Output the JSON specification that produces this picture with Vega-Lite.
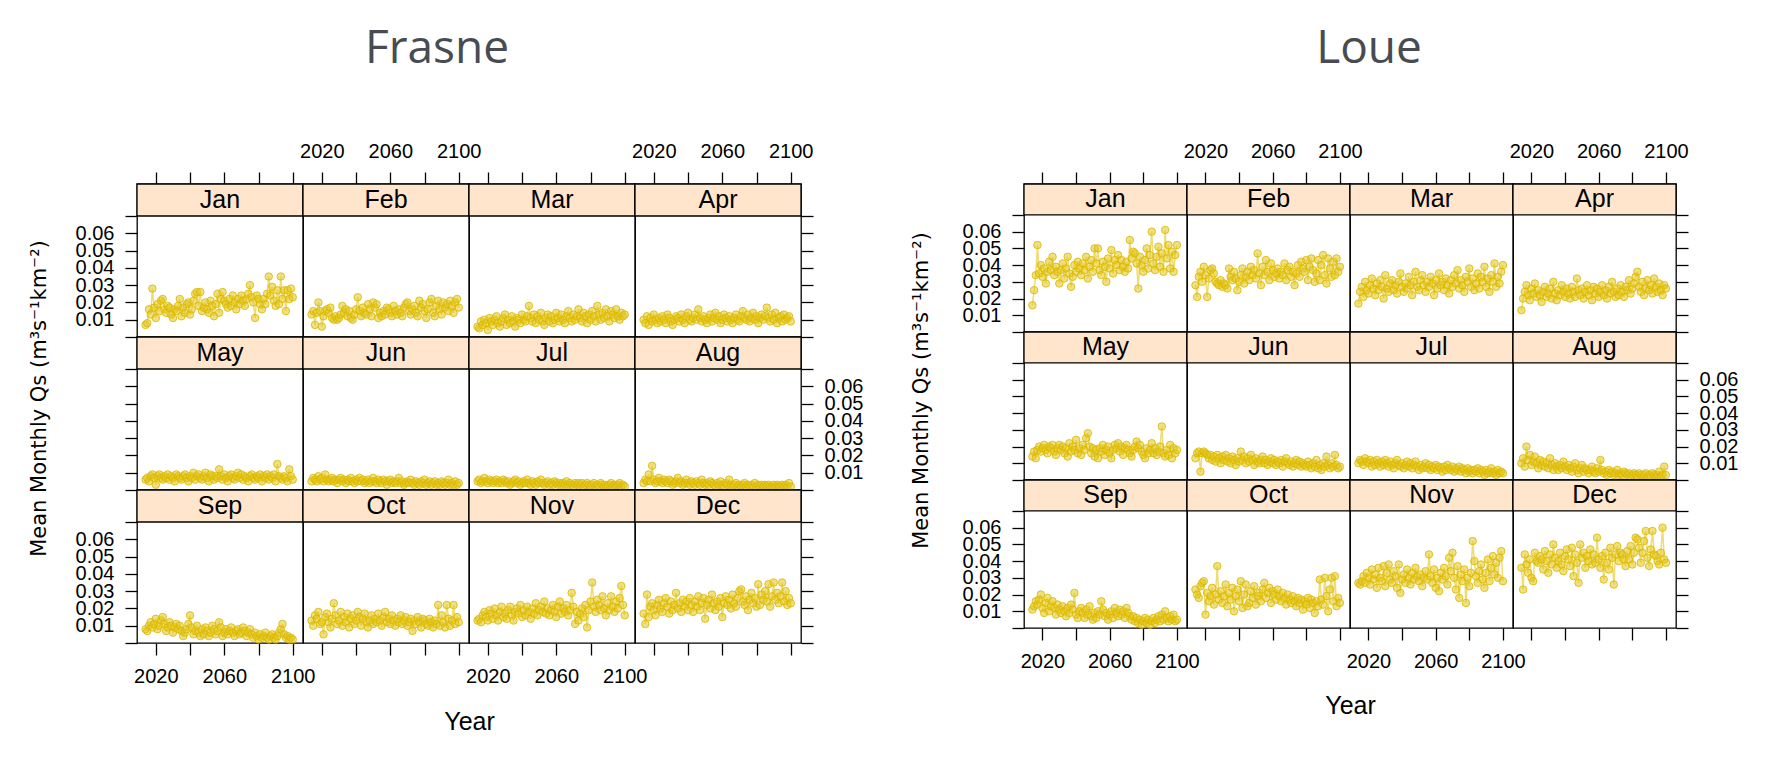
{
"$schema":"https://vega.github.io/schema/vega-lite/v6.json",
"background":"white",
"padding":{"left":27,"top":26,"right":0,"bottom":0},
"config":{"view":{"stroke":"black","strokeWidth":1.3},"axis":{"domain":false,"grid":false,"tickColor":"black","tickSize":12,"tickWidth":1.3,"labelFont":"Liberation Sans","labelFontSize":20,"labelColor":"black","labelPadding":11,"labelOverlap":false,"labelFlush":false,"labelBound":false}},
"datasets":{
"frasne":[
{"y":2014,"Jan":0.007,"Feb":0.013,"Mar":0.006,"Apr":0.010,"May":0.006,"Jun":0.005,"Jul":0.005,"Aug":0.004,"Sep":0.008,"Oct":0.013,"Nov":0.013,"Dec":0.017},
{"y":2015,"Jan":0.008,"Feb":0.015,"Mar":0.005,"Apr":0.008,"May":0.007,"Jun":0.007,"Jul":0.006,"Aug":0.006,"Sep":0.007,"Oct":0.010,"Nov":0.014,"Dec":0.011},
{"y":2016,"Jan":0.016,"Feb":0.007,"Mar":0.009,"Apr":0.012,"May":0.005,"Jun":0.006,"Jul":0.004,"Aug":0.005,"Sep":0.010,"Oct":0.016,"Nov":0.012,"Dec":0.028},
{"y":2017,"Jan":0.013,"Feb":0.014,"Mar":0.007,"Apr":0.007,"May":0.008,"Jun":0.005,"Jul":0.005,"Aug":0.009,"Sep":0.012,"Oct":0.014,"Nov":0.016,"Dec":0.015},
{"y":2018,"Jan":0.028,"Feb":0.020,"Mar":0.010,"Apr":0.011,"May":0.009,"Jun":0.008,"Jul":0.007,"Aug":0.005,"Sep":0.009,"Oct":0.018,"Nov":0.018,"Dec":0.021},
{"y":2019,"Jan":0.017,"Feb":0.015,"Mar":0.008,"Apr":0.009,"May":0.007,"Jun":0.006,"Jul":0.005,"Aug":0.014,"Sep":0.011,"Oct":0.011,"Nov":0.015,"Dec":0.023},
{"y":2020,"Jan":0.011,"Feb":0.006,"Mar":0.004,"Apr":0.013,"May":0.003,"Jun":0.007,"Jul":0.004,"Aug":0.006,"Sep":0.014,"Oct":0.012,"Nov":0.013,"Dec":0.019},
{"y":2021,"Jan":0.019,"Feb":0.012,"Mar":0.011,"Apr":0.010,"May":0.008,"Jun":0.005,"Jul":0.006,"Aug":0.004,"Sep":0.008,"Oct":0.005,"Nov":0.019,"Dec":0.016},
{"y":2022,"Jan":0.015,"Feb":0.015,"Mar":0.009,"Apr":0.008,"May":0.009,"Jun":0.009,"Jul":0.005,"Aug":0.005,"Sep":0.010,"Oct":0.015,"Nov":0.017,"Dec":0.022},
{"y":2023,"Jan":0.021,"Feb":0.016,"Mar":0.007,"Apr":0.011,"May":0.007,"Jun":0.006,"Jul":0.004,"Aug":0.007,"Sep":0.013,"Oct":0.017,"Nov":0.014,"Dec":0.025},
{"y":2024,"Jan":0.022,"Feb":0.014,"Mar":0.010,"Apr":0.009,"May":0.006,"Jun":0.005,"Jul":0.005,"Aug":0.005,"Sep":0.015,"Oct":0.012,"Nov":0.020,"Dec":0.020},
{"y":2025,"Jan":0.016,"Feb":0.017,"Mar":0.012,"Apr":0.012,"May":0.008,"Jun":0.006,"Jul":0.006,"Aug":0.004,"Sep":0.011,"Oct":0.009,"Nov":0.016,"Dec":0.018},
{"y":2026,"Jan":0.014,"Feb":0.011,"Mar":0.008,"Apr":0.010,"May":0.007,"Jun":0.007,"Jul":0.004,"Aug":0.006,"Sep":0.007,"Oct":0.014,"Nov":0.013,"Dec":0.023},
{"y":2027,"Jan":0.018,"Feb":0.010,"Mar":0.006,"Apr":0.008,"May":0.009,"Jun":0.005,"Jul":0.005,"Aug":0.005,"Sep":0.009,"Oct":0.023,"Nov":0.018,"Dec":0.026},
{"y":2028,"Jan":0.017,"Feb":0.012,"Mar":0.009,"Apr":0.013,"May":0.006,"Jun":0.006,"Jul":0.004,"Aug":0.004,"Sep":0.012,"Oct":0.016,"Nov":0.021,"Dec":0.021},
{"y":2029,"Jan":0.013,"Feb":0.010,"Mar":0.011,"Apr":0.011,"May":0.008,"Jun":0.004,"Jul":0.006,"Aug":0.006,"Sep":0.010,"Oct":0.011,"Nov":0.015,"Dec":0.017},
{"y":2030,"Jan":0.011,"Feb":0.011,"Mar":0.013,"Apr":0.009,"May":0.007,"Jun":0.006,"Jul":0.005,"Aug":0.005,"Sep":0.006,"Oct":0.013,"Nov":0.017,"Dec":0.024},
{"y":2031,"Jan":0.016,"Feb":0.013,"Mar":0.007,"Apr":0.007,"May":0.005,"Jun":0.007,"Jul":0.004,"Aug":0.003,"Sep":0.009,"Oct":0.018,"Nov":0.014,"Dec":0.019},
{"y":2032,"Jan":0.015,"Feb":0.018,"Mar":0.010,"Apr":0.010,"May":0.009,"Jun":0.005,"Jul":0.005,"Aug":0.004,"Sep":0.011,"Oct":0.010,"Nov":0.019,"Dec":0.022},
{"y":2033,"Jan":0.018,"Feb":0.014,"Mar":0.008,"Apr":0.012,"May":0.008,"Jun":0.006,"Jul":0.003,"Aug":0.005,"Sep":0.008,"Oct":0.015,"Nov":0.021,"Dec":0.029},
{"y":2034,"Jan":0.022,"Feb":0.016,"Mar":0.012,"Apr":0.011,"May":0.007,"Jun":0.004,"Jul":0.004,"Aug":0.007,"Sep":0.010,"Oct":0.012,"Nov":0.016,"Dec":0.020},
{"y":2035,"Jan":0.012,"Feb":0.012,"Mar":0.009,"Apr":0.009,"May":0.006,"Jun":0.006,"Jul":0.005,"Aug":0.004,"Sep":0.007,"Oct":0.017,"Nov":0.013,"Dec":0.023},
{"y":2036,"Jan":0.017,"Feb":0.015,"Mar":0.006,"Apr":0.013,"May":0.008,"Jun":0.005,"Jul":0.006,"Aug":0.005,"Sep":0.004,"Oct":0.009,"Nov":0.018,"Dec":0.018},
{"y":2037,"Jan":0.014,"Feb":0.011,"Mar":0.011,"Apr":0.010,"May":0.009,"Jun":0.007,"Jul":0.004,"Aug":0.003,"Sep":0.006,"Oct":0.014,"Nov":0.020,"Dec":0.025},
{"y":2038,"Jan":0.019,"Feb":0.010,"Mar":0.010,"Apr":0.008,"May":0.007,"Jun":0.005,"Jul":0.005,"Aug":0.004,"Sep":0.008,"Oct":0.016,"Nov":0.017,"Dec":0.021},
{"y":2039,"Jan":0.020,"Feb":0.013,"Mar":0.008,"Apr":0.012,"May":0.005,"Jun":0.004,"Jul":0.003,"Aug":0.006,"Sep":0.011,"Oct":0.011,"Nov":0.022,"Dec":0.024},
{"y":2040,"Jan":0.013,"Feb":0.016,"Mar":0.013,"Apr":0.014,"May":0.008,"Jun":0.006,"Jul":0.004,"Aug":0.004,"Sep":0.016,"Oct":0.013,"Nov":0.015,"Dec":0.019},
{"y":2041,"Jan":0.016,"Feb":0.023,"Mar":0.010,"Apr":0.010,"May":0.007,"Jun":0.005,"Jul":0.005,"Aug":0.003,"Sep":0.009,"Oct":0.018,"Nov":0.019,"Dec":0.026},
{"y":2042,"Jan":0.021,"Feb":0.015,"Mar":0.009,"Apr":0.009,"May":0.010,"Jun":0.007,"Jul":0.004,"Aug":0.005,"Sep":0.005,"Oct":0.015,"Nov":0.016,"Dec":0.022},
{"y":2043,"Jan":0.025,"Feb":0.012,"Mar":0.012,"Apr":0.011,"May":0.006,"Jun":0.005,"Jul":0.006,"Aug":0.004,"Sep":0.007,"Oct":0.010,"Nov":0.021,"Dec":0.018},
{"y":2044,"Jan":0.026,"Feb":0.017,"Mar":0.018,"Apr":0.013,"May":0.008,"Jun":0.006,"Jul":0.004,"Aug":0.003,"Sep":0.010,"Oct":0.014,"Nov":0.018,"Dec":0.024},
{"y":2045,"Jan":0.018,"Feb":0.014,"Mar":0.011,"Apr":0.010,"May":0.009,"Jun":0.004,"Jul":0.003,"Aug":0.005,"Sep":0.006,"Oct":0.017,"Nov":0.014,"Dec":0.021},
{"y":2046,"Jan":0.026,"Feb":0.013,"Mar":0.009,"Apr":0.016,"May":0.007,"Jun":0.005,"Jul":0.005,"Aug":0.004,"Sep":0.004,"Oct":0.012,"Nov":0.020,"Dec":0.027},
{"y":2047,"Jan":0.015,"Feb":0.019,"Mar":0.013,"Apr":0.011,"May":0.006,"Jun":0.006,"Jul":0.004,"Aug":0.003,"Sep":0.008,"Oct":0.009,"Nov":0.017,"Dec":0.019},
{"y":2048,"Jan":0.017,"Feb":0.016,"Mar":0.008,"Apr":0.009,"May":0.008,"Jun":0.004,"Jul":0.003,"Aug":0.006,"Sep":0.005,"Oct":0.013,"Nov":0.023,"Dec":0.023},
{"y":2049,"Jan":0.020,"Feb":0.012,"Mar":0.012,"Apr":0.012,"May":0.010,"Jun":0.005,"Jul":0.005,"Aug":0.004,"Sep":0.009,"Oct":0.016,"Nov":0.016,"Dec":0.026},
{"y":2050,"Jan":0.016,"Feb":0.020,"Mar":0.010,"Apr":0.010,"May":0.007,"Jun":0.007,"Jul":0.004,"Aug":0.003,"Sep":0.007,"Oct":0.011,"Nov":0.019,"Dec":0.014},
{"y":2051,"Jan":0.014,"Feb":0.017,"Mar":0.014,"Apr":0.008,"May":0.005,"Jun":0.005,"Jul":0.006,"Aug":0.004,"Sep":0.004,"Oct":0.014,"Nov":0.021,"Dec":0.022},
{"y":2052,"Jan":0.021,"Feb":0.019,"Mar":0.009,"Apr":0.011,"May":0.009,"Jun":0.004,"Jul":0.004,"Aug":0.003,"Sep":0.006,"Oct":0.012,"Nov":0.018,"Dec":0.025},
{"y":2053,"Jan":0.018,"Feb":0.011,"Mar":0.007,"Apr":0.013,"May":0.008,"Jun":0.006,"Jul":0.003,"Aug":0.005,"Sep":0.010,"Oct":0.017,"Nov":0.024,"Dec":0.020},
{"y":2054,"Jan":0.012,"Feb":0.014,"Mar":0.011,"Apr":0.009,"May":0.006,"Jun":0.005,"Jul":0.004,"Aug":0.004,"Sep":0.008,"Oct":0.013,"Nov":0.017,"Dec":0.028},
{"y":2055,"Jan":0.019,"Feb":0.012,"Mar":0.013,"Apr":0.011,"May":0.008,"Jun":0.004,"Jul":0.005,"Aug":0.003,"Sep":0.005,"Oct":0.010,"Nov":0.020,"Dec":0.023},
{"y":2056,"Jan":0.025,"Feb":0.015,"Mar":0.009,"Apr":0.014,"May":0.007,"Jun":0.006,"Jul":0.003,"Aug":0.002,"Sep":0.007,"Oct":0.015,"Nov":0.016,"Dec":0.019},
{"y":2057,"Jan":0.014,"Feb":0.013,"Mar":0.012,"Apr":0.010,"May":0.012,"Jun":0.005,"Jul":0.004,"Aug":0.004,"Sep":0.012,"Oct":0.018,"Nov":0.019,"Dec":0.024},
{"y":2058,"Jan":0.022,"Feb":0.017,"Mar":0.008,"Apr":0.012,"May":0.008,"Jun":0.003,"Jul":0.003,"Aug":0.003,"Sep":0.009,"Oct":0.012,"Nov":0.022,"Dec":0.021},
{"y":2059,"Jan":0.026,"Feb":0.016,"Mar":0.010,"Apr":0.008,"May":0.006,"Jun":0.005,"Jul":0.005,"Aug":0.005,"Sep":0.004,"Oct":0.014,"Nov":0.018,"Dec":0.026},
{"y":2060,"Jan":0.021,"Feb":0.014,"Mar":0.014,"Apr":0.010,"May":0.009,"Jun":0.006,"Jul":0.004,"Aug":0.003,"Sep":0.006,"Oct":0.011,"Nov":0.015,"Dec":0.015},
{"y":2061,"Jan":0.019,"Feb":0.012,"Mar":0.011,"Apr":0.013,"May":0.007,"Jun":0.004,"Jul":0.003,"Aug":0.002,"Sep":0.008,"Oct":0.016,"Nov":0.021,"Dec":0.023},
{"y":2062,"Jan":0.017,"Feb":0.018,"Mar":0.009,"Apr":0.011,"May":0.005,"Jun":0.005,"Jul":0.004,"Aug":0.004,"Sep":0.005,"Oct":0.013,"Nov":0.024,"Dec":0.027},
{"y":2063,"Jan":0.022,"Feb":0.015,"Mar":0.013,"Apr":0.009,"May":0.008,"Jun":0.004,"Jul":0.003,"Aug":0.003,"Sep":0.007,"Oct":0.010,"Nov":0.017,"Dec":0.022},
{"y":2064,"Jan":0.018,"Feb":0.013,"Mar":0.010,"Apr":0.012,"May":0.009,"Jun":0.005,"Jul":0.004,"Aug":0.006,"Sep":0.009,"Oct":0.014,"Nov":0.020,"Dec":0.025},
{"y":2065,"Jan":0.024,"Feb":0.016,"Mar":0.008,"Apr":0.010,"May":0.007,"Jun":0.007,"Jul":0.003,"Aug":0.003,"Sep":0.006,"Oct":0.012,"Nov":0.018,"Dec":0.020},
{"y":2066,"Jan":0.020,"Feb":0.014,"Mar":0.012,"Apr":0.008,"May":0.006,"Jun":0.004,"Jul":0.005,"Aug":0.002,"Sep":0.004,"Oct":0.016,"Nov":0.022,"Dec":0.028},
{"y":2067,"Jan":0.016,"Feb":0.012,"Mar":0.015,"Apr":0.011,"May":0.008,"Jun":0.005,"Jul":0.003,"Aug":0.003,"Sep":0.007,"Oct":0.011,"Nov":0.016,"Dec":0.023},
{"y":2068,"Jan":0.022,"Feb":0.017,"Mar":0.011,"Apr":0.013,"May":0.010,"Jun":0.003,"Jul":0.004,"Aug":0.004,"Sep":0.008,"Oct":0.013,"Nov":0.019,"Dec":0.021},
{"y":2069,"Jan":0.019,"Feb":0.019,"Mar":0.009,"Apr":0.010,"May":0.007,"Jun":0.004,"Jul":0.003,"Aug":0.002,"Sep":0.005,"Oct":0.015,"Nov":0.029,"Dec":0.026},
{"y":2070,"Jan":0.024,"Feb":0.020,"Mar":0.013,"Apr":0.009,"May":0.009,"Jun":0.005,"Jul":0.002,"Aug":0.003,"Sep":0.006,"Oct":0.010,"Nov":0.021,"Dec":0.030},
{"y":2071,"Jan":0.021,"Feb":0.015,"Mar":0.010,"Apr":0.012,"May":0.006,"Jun":0.004,"Jul":0.004,"Aug":0.002,"Sep":0.009,"Oct":0.012,"Nov":0.011,"Dec":0.031},
{"y":2072,"Jan":0.018,"Feb":0.013,"Mar":0.012,"Apr":0.015,"May":0.008,"Jun":0.006,"Jul":0.003,"Aug":0.003,"Sep":0.007,"Oct":0.014,"Nov":0.018,"Dec":0.024},
{"y":2073,"Jan":0.022,"Feb":0.016,"Mar":0.016,"Apr":0.011,"May":0.007,"Jun":0.004,"Jul":0.004,"Aug":0.004,"Sep":0.004,"Oct":0.007,"Nov":0.013,"Dec":0.022},
{"y":2074,"Jan":0.025,"Feb":0.018,"Mar":0.011,"Apr":0.010,"May":0.005,"Jun":0.003,"Jul":0.003,"Aug":0.002,"Sep":0.006,"Oct":0.013,"Nov":0.017,"Dec":0.027},
{"y":2075,"Jan":0.030,"Feb":0.014,"Mar":0.009,"Apr":0.013,"May":0.008,"Jun":0.005,"Jul":0.004,"Aug":0.003,"Sep":0.008,"Oct":0.011,"Nov":0.020,"Dec":0.019},
{"y":2076,"Jan":0.023,"Feb":0.012,"Mar":0.014,"Apr":0.009,"May":0.009,"Jun":0.004,"Jul":0.002,"Aug":0.002,"Sep":0.005,"Oct":0.015,"Nov":0.015,"Dec":0.025},
{"y":2077,"Jan":0.020,"Feb":0.021,"Mar":0.012,"Apr":0.011,"May":0.007,"Jun":0.003,"Jul":0.003,"Aug":0.003,"Sep":0.003,"Oct":0.012,"Nov":0.022,"Dec":0.029},
{"y":2078,"Jan":0.011,"Feb":0.017,"Mar":0.008,"Apr":0.014,"May":0.006,"Jun":0.005,"Jul":0.004,"Aug":0.002,"Sep":0.006,"Oct":0.009,"Nov":0.009,"Dec":0.023},
{"y":2079,"Jan":0.024,"Feb":0.019,"Mar":0.013,"Apr":0.010,"May":0.008,"Jun":0.004,"Jul":0.003,"Aug":0.004,"Sep":0.004,"Oct":0.014,"Nov":0.019,"Dec":0.026},
{"y":2080,"Jan":0.022,"Feb":0.015,"Mar":0.010,"Apr":0.012,"May":0.007,"Jun":0.006,"Jul":0.002,"Aug":0.002,"Sep":0.002,"Oct":0.013,"Nov":0.024,"Dec":0.021},
{"y":2081,"Jan":0.019,"Feb":0.011,"Mar":0.015,"Apr":0.008,"May":0.009,"Jun":0.003,"Jul":0.003,"Aug":0.003,"Sep":0.005,"Oct":0.011,"Nov":0.035,"Dec":0.034},
{"y":2082,"Jan":0.016,"Feb":0.016,"Mar":0.012,"Apr":0.011,"May":0.005,"Jun":0.004,"Jul":0.004,"Aug":0.002,"Sep":0.003,"Oct":0.010,"Nov":0.021,"Dec":0.022},
{"y":2083,"Jan":0.022,"Feb":0.020,"Mar":0.009,"Apr":0.013,"May":0.008,"Jun":0.005,"Jul":0.002,"Aug":0.003,"Sep":0.004,"Oct":0.014,"Nov":0.018,"Dec":0.028},
{"y":2084,"Jan":0.019,"Feb":0.022,"Mar":0.018,"Apr":0.010,"May":0.007,"Jun":0.003,"Jul":0.003,"Aug":0.002,"Sep":0.006,"Oct":0.012,"Nov":0.025,"Dec":0.025},
{"y":2085,"Jan":0.025,"Feb":0.014,"Mar":0.013,"Apr":0.012,"May":0.009,"Jun":0.004,"Jul":0.002,"Aug":0.003,"Sep":0.003,"Oct":0.009,"Nov":0.022,"Dec":0.030},
{"y":2086,"Jan":0.035,"Feb":0.012,"Mar":0.010,"Apr":0.017,"May":0.006,"Jun":0.005,"Jul":0.004,"Aug":0.002,"Sep":0.002,"Oct":0.013,"Nov":0.019,"Dec":0.024},
{"y":2087,"Jan":0.024,"Feb":0.018,"Mar":0.014,"Apr":0.011,"May":0.008,"Jun":0.003,"Jul":0.003,"Aug":0.003,"Sep":0.004,"Oct":0.011,"Nov":0.027,"Dec":0.034},
{"y":2088,"Jan":0.029,"Feb":0.021,"Mar":0.011,"Apr":0.009,"May":0.007,"Jun":0.004,"Jul":0.002,"Aug":0.002,"Sep":0.005,"Oct":0.022,"Nov":0.020,"Dec":0.021},
{"y":2089,"Jan":0.021,"Feb":0.016,"Mar":0.016,"Apr":0.013,"May":0.009,"Jun":0.003,"Jul":0.003,"Aug":0.002,"Sep":0.003,"Oct":0.010,"Nov":0.016,"Dec":0.027},
{"y":2090,"Jan":0.018,"Feb":0.013,"Mar":0.012,"Apr":0.010,"May":0.005,"Jun":0.005,"Jul":0.002,"Aug":0.003,"Sep":0.002,"Oct":0.016,"Nov":0.023,"Dec":0.035},
{"y":2091,"Jan":0.027,"Feb":0.020,"Mar":0.009,"Apr":0.014,"May":0.015,"Jun":0.004,"Jul":0.003,"Aug":0.002,"Sep":0.004,"Oct":0.012,"Nov":0.019,"Dec":0.025},
{"y":2092,"Jan":0.019,"Feb":0.017,"Mar":0.015,"Apr":0.008,"May":0.008,"Jun":0.003,"Jul":0.004,"Aug":0.003,"Sep":0.006,"Oct":0.009,"Nov":0.027,"Dec":0.029},
{"y":2093,"Jan":0.035,"Feb":0.019,"Mar":0.013,"Apr":0.011,"May":0.007,"Jun":0.004,"Jul":0.002,"Aug":0.002,"Sep":0.008,"Oct":0.022,"Nov":0.021,"Dec":0.023},
{"y":2094,"Jan":0.022,"Feb":0.015,"Mar":0.011,"Apr":0.012,"May":0.006,"Jun":0.006,"Jul":0.003,"Aug":0.002,"Sep":0.011,"Oct":0.014,"Nov":0.018,"Dec":0.027},
{"y":2095,"Jan":0.027,"Feb":0.021,"Mar":0.016,"Apr":0.009,"May":0.008,"Jun":0.003,"Jul":0.002,"Aug":0.003,"Sep":0.005,"Oct":0.010,"Nov":0.024,"Dec":0.035},
{"y":2096,"Jan":0.015,"Feb":0.018,"Mar":0.012,"Apr":0.013,"May":0.007,"Jun":0.004,"Jul":0.003,"Aug":0.002,"Sep":0.003,"Oct":0.013,"Nov":0.020,"Dec":0.024},
{"y":2097,"Jan":0.027,"Feb":0.014,"Mar":0.010,"Apr":0.010,"May":0.005,"Jun":0.003,"Jul":0.004,"Aug":0.003,"Sep":0.004,"Oct":0.022,"Nov":0.026,"Dec":0.030},
{"y":2098,"Jan":0.022,"Feb":0.020,"Mar":0.014,"Apr":0.011,"May":0.012,"Jun":0.005,"Jul":0.002,"Aug":0.002,"Sep":0.002,"Oct":0.011,"Nov":0.033,"Dec":0.022},
{"y":2099,"Jan":0.028,"Feb":0.022,"Mar":0.012,"Apr":0.012,"May":0.008,"Jun":0.003,"Jul":0.003,"Aug":0.004,"Sep":0.003,"Oct":0.015,"Nov":0.022,"Dec":0.026},
{"y":2100,"Jan":0.023,"Feb":0.017,"Mar":0.013,"Apr":0.009,"May":0.006,"Jun":0.004,"Jul":0.002,"Aug":0.002,"Sep":0.002,"Oct":0.012,"Nov":0.016,"Dec":0.023}
],
"loue":[
{"y":2014,"Jan":0.016,"Feb":0.028,"Mar":0.017,"Apr":0.013,"May":0.014,"Jun":0.013,"Jul":0.010,"Aug":0.010,"Sep":0.011,"Oct":0.023,"Nov":0.027,"Dec":0.036},
{"y":2015,"Jan":0.025,"Feb":0.021,"Mar":0.024,"Apr":0.020,"May":0.017,"Jun":0.016,"Jul":0.012,"Aug":0.013,"Sep":0.013,"Oct":0.020,"Nov":0.026,"Dec":0.023},
{"y":2016,"Jan":0.034,"Feb":0.033,"Mar":0.027,"Apr":0.024,"May":0.013,"Jun":0.017,"Jul":0.011,"Aug":0.008,"Sep":0.016,"Oct":0.018,"Nov":0.028,"Dec":0.044},
{"y":2017,"Jan":0.052,"Feb":0.036,"Mar":0.021,"Apr":0.028,"May":0.018,"Jun":0.005,"Jul":0.009,"Aug":0.020,"Sep":0.014,"Oct":0.025,"Nov":0.031,"Dec":0.038},
{"y":2018,"Jan":0.035,"Feb":0.030,"Mar":0.030,"Apr":0.022,"May":0.020,"Jun":0.016,"Jul":0.013,"Aug":0.012,"Sep":0.017,"Oct":0.027,"Nov":0.027,"Dec":0.033},
{"y":2019,"Jan":0.040,"Feb":0.039,"Mar":0.025,"Apr":0.019,"May":0.017,"Jun":0.017,"Jul":0.011,"Aug":0.015,"Sep":0.020,"Oct":0.028,"Nov":0.033,"Dec":0.041},
{"y":2020,"Jan":0.033,"Feb":0.034,"Mar":0.023,"Apr":0.026,"May":0.019,"Jun":0.016,"Jul":0.010,"Aug":0.009,"Sep":0.012,"Oct":0.008,"Nov":0.030,"Dec":0.030},
{"y":2021,"Jan":0.038,"Feb":0.021,"Mar":0.028,"Apr":0.023,"May":0.021,"Jun":0.015,"Jul":0.012,"Aug":0.011,"Sep":0.009,"Oct":0.021,"Nov":0.026,"Dec":0.028},
{"y":2022,"Jan":0.029,"Feb":0.032,"Mar":0.032,"Apr":0.029,"May":0.018,"Jun":0.013,"Jul":0.008,"Aug":0.014,"Sep":0.015,"Oct":0.016,"Nov":0.035,"Dec":0.045},
{"y":2023,"Jan":0.036,"Feb":0.037,"Mar":0.026,"Apr":0.021,"May":0.016,"Jun":0.015,"Jul":0.011,"Aug":0.010,"Sep":0.018,"Oct":0.019,"Nov":0.029,"Dec":0.040},
{"y":2024,"Jan":0.042,"Feb":0.038,"Mar":0.022,"Apr":0.025,"May":0.020,"Jun":0.012,"Jul":0.009,"Aug":0.007,"Sep":0.010,"Oct":0.024,"Nov":0.032,"Dec":0.039},
{"y":2025,"Jan":0.037,"Feb":0.035,"Mar":0.029,"Apr":0.022,"May":0.019,"Jun":0.014,"Jul":0.012,"Aug":0.012,"Sep":0.013,"Oct":0.014,"Nov":0.024,"Dec":0.043},
{"y":2026,"Jan":0.045,"Feb":0.030,"Mar":0.025,"Apr":0.018,"May":0.021,"Jun":0.011,"Jul":0.010,"Aug":0.009,"Sep":0.016,"Oct":0.020,"Nov":0.036,"Dec":0.041},
{"y":2027,"Jan":0.034,"Feb":0.029,"Mar":0.031,"Apr":0.024,"May":0.017,"Jun":0.015,"Jul":0.008,"Aug":0.011,"Sep":0.012,"Oct":0.037,"Nov":0.030,"Dec":0.035},
{"y":2028,"Jan":0.039,"Feb":0.028,"Mar":0.027,"Apr":0.027,"May":0.015,"Jun":0.013,"Jul":0.011,"Aug":0.008,"Sep":0.008,"Oct":0.017,"Nov":0.028,"Dec":0.046},
{"y":2029,"Jan":0.036,"Feb":0.031,"Mar":0.020,"Apr":0.021,"May":0.019,"Jun":0.010,"Jul":0.009,"Aug":0.010,"Sep":0.014,"Oct":0.022,"Nov":0.037,"Dec":0.040},
{"y":2030,"Jan":0.029,"Feb":0.027,"Mar":0.034,"Apr":0.023,"May":0.021,"Jun":0.014,"Jul":0.012,"Aug":0.007,"Sep":0.011,"Oct":0.015,"Nov":0.025,"Dec":0.033},
{"y":2031,"Jan":0.037,"Feb":0.029,"Mar":0.026,"Apr":0.026,"May":0.018,"Jun":0.012,"Jul":0.010,"Aug":0.013,"Sep":0.009,"Oct":0.019,"Nov":0.033,"Dec":0.044},
{"y":2032,"Jan":0.041,"Feb":0.028,"Mar":0.024,"Apr":0.020,"May":0.020,"Jun":0.015,"Jul":0.008,"Aug":0.009,"Sep":0.013,"Oct":0.026,"Nov":0.038,"Dec":0.038},
{"y":2033,"Jan":0.032,"Feb":0.026,"Mar":0.029,"Apr":0.030,"May":0.016,"Jun":0.011,"Jul":0.011,"Aug":0.006,"Sep":0.010,"Oct":0.013,"Nov":0.029,"Dec":0.050},
{"y":2034,"Jan":0.038,"Feb":0.038,"Mar":0.031,"Apr":0.023,"May":0.019,"Jun":0.013,"Jul":0.009,"Aug":0.010,"Sep":0.007,"Oct":0.021,"Nov":0.027,"Dec":0.042},
{"y":2035,"Jan":0.045,"Feb":0.033,"Mar":0.025,"Apr":0.019,"May":0.014,"Jun":0.010,"Jul":0.007,"Aug":0.008,"Sep":0.012,"Oct":0.017,"Nov":0.034,"Dec":0.036},
{"y":2036,"Jan":0.035,"Feb":0.031,"Mar":0.028,"Apr":0.025,"May":0.022,"Jun":0.014,"Jul":0.010,"Aug":0.006,"Sep":0.009,"Oct":0.024,"Nov":0.031,"Dec":0.040},
{"y":2037,"Jan":0.027,"Feb":0.036,"Mar":0.023,"Apr":0.022,"May":0.017,"Jun":0.012,"Jul":0.012,"Aug":0.009,"Sep":0.014,"Oct":0.010,"Nov":0.024,"Dec":0.045},
{"y":2038,"Jan":0.033,"Feb":0.032,"Mar":0.030,"Apr":0.028,"May":0.020,"Jun":0.009,"Jul":0.009,"Aug":0.007,"Sep":0.011,"Oct":0.019,"Nov":0.038,"Dec":0.038},
{"y":2039,"Jan":0.040,"Feb":0.025,"Mar":0.035,"Apr":0.024,"May":0.018,"Jun":0.013,"Jul":0.008,"Aug":0.011,"Sep":0.021,"Oct":0.023,"Nov":0.021,"Dec":0.034},
{"y":2040,"Jan":0.036,"Feb":0.030,"Mar":0.027,"Apr":0.021,"May":0.024,"Jun":0.011,"Jul":0.010,"Aug":0.008,"Sep":0.008,"Oct":0.016,"Nov":0.029,"Dec":0.043},
{"y":2041,"Jan":0.042,"Feb":0.034,"Mar":0.024,"Apr":0.026,"May":0.016,"Jun":0.017,"Jul":0.007,"Aug":0.006,"Sep":0.006,"Oct":0.028,"Nov":0.032,"Dec":0.047},
{"y":2042,"Jan":0.038,"Feb":0.038,"Mar":0.029,"Apr":0.023,"May":0.019,"Jun":0.012,"Jul":0.009,"Aug":0.009,"Sep":0.010,"Oct":0.012,"Nov":0.027,"Dec":0.041},
{"y":2043,"Jan":0.034,"Feb":0.029,"Mar":0.026,"Apr":0.020,"May":0.015,"Jun":0.014,"Jul":0.011,"Aug":0.007,"Sep":0.012,"Oct":0.020,"Nov":0.035,"Dec":0.037},
{"y":2044,"Jan":0.041,"Feb":0.033,"Mar":0.033,"Apr":0.027,"May":0.021,"Jun":0.010,"Jul":0.008,"Aug":0.005,"Sep":0.009,"Oct":0.026,"Nov":0.030,"Dec":0.048},
{"y":2045,"Jan":0.037,"Feb":0.036,"Mar":0.028,"Apr":0.024,"May":0.018,"Jun":0.013,"Jul":0.010,"Aug":0.008,"Sep":0.006,"Oct":0.013,"Nov":0.026,"Dec":0.031},
{"y":2046,"Jan":0.045,"Feb":0.031,"Mar":0.022,"Apr":0.021,"May":0.025,"Jun":0.011,"Jul":0.007,"Aug":0.010,"Sep":0.011,"Oct":0.015,"Nov":0.033,"Dec":0.044},
{"y":2047,"Jan":0.032,"Feb":0.039,"Mar":0.030,"Apr":0.032,"May":0.028,"Jun":0.015,"Jul":0.009,"Aug":0.006,"Sep":0.008,"Oct":0.022,"Nov":0.029,"Dec":0.039},
{"y":2048,"Jan":0.039,"Feb":0.034,"Mar":0.036,"Apr":0.025,"May":0.020,"Jun":0.012,"Jul":0.011,"Aug":0.004,"Sep":0.013,"Oct":0.018,"Nov":0.036,"Dec":0.027},
{"y":2049,"Jan":0.043,"Feb":0.037,"Mar":0.027,"Apr":0.022,"May":0.016,"Jun":0.009,"Jul":0.008,"Aug":0.007,"Sep":0.007,"Oct":0.025,"Nov":0.031,"Dec":0.050},
{"y":2050,"Jan":0.036,"Feb":0.032,"Mar":0.025,"Apr":0.026,"May":0.019,"Jun":0.013,"Jul":0.006,"Aug":0.009,"Sep":0.005,"Oct":0.014,"Nov":0.028,"Dec":0.042},
{"y":2051,"Jan":0.050,"Feb":0.047,"Mar":0.031,"Apr":0.020,"May":0.014,"Jun":0.011,"Jul":0.009,"Aug":0.005,"Sep":0.009,"Oct":0.019,"Nov":0.032,"Dec":0.045},
{"y":2052,"Jan":0.041,"Feb":0.035,"Mar":0.034,"Apr":0.024,"May":0.018,"Jun":0.010,"Jul":0.007,"Aug":0.007,"Sep":0.006,"Oct":0.021,"Nov":0.025,"Dec":0.036},
{"y":2053,"Jan":0.050,"Feb":0.028,"Mar":0.028,"Apr":0.028,"May":0.013,"Jun":0.012,"Jul":0.008,"Aug":0.006,"Sep":0.010,"Oct":0.016,"Nov":0.030,"Dec":0.043},
{"y":2054,"Jan":0.037,"Feb":0.039,"Mar":0.024,"Apr":0.022,"May":0.019,"Jun":0.014,"Jul":0.010,"Aug":0.004,"Sep":0.008,"Oct":0.023,"Nov":0.034,"Dec":0.040},
{"y":2055,"Jan":0.034,"Feb":0.034,"Mar":0.030,"Apr":0.025,"May":0.017,"Jun":0.010,"Jul":0.007,"Aug":0.006,"Sep":0.016,"Oct":0.027,"Nov":0.029,"Dec":0.047},
{"y":2056,"Jan":0.042,"Feb":0.043,"Mar":0.027,"Apr":0.019,"May":0.021,"Jun":0.012,"Jul":0.009,"Aug":0.008,"Sep":0.011,"Oct":0.018,"Nov":0.044,"Dec":0.038},
{"y":2057,"Jan":0.039,"Feb":0.036,"Mar":0.033,"Apr":0.027,"May":0.015,"Jun":0.009,"Jul":0.006,"Aug":0.005,"Sep":0.007,"Oct":0.021,"Nov":0.031,"Dec":0.044},
{"y":2058,"Jan":0.030,"Feb":0.031,"Mar":0.029,"Apr":0.023,"May":0.018,"Jun":0.011,"Jul":0.008,"Aug":0.004,"Sep":0.009,"Oct":0.024,"Nov":0.027,"Dec":0.039},
{"y":2059,"Jan":0.044,"Feb":0.041,"Mar":0.022,"Apr":0.026,"May":0.020,"Jun":0.013,"Jul":0.007,"Aug":0.007,"Sep":0.005,"Oct":0.015,"Nov":0.035,"Dec":0.054},
{"y":2060,"Jan":0.038,"Feb":0.037,"Mar":0.031,"Apr":0.021,"May":0.016,"Jun":0.010,"Jul":0.009,"Aug":0.005,"Sep":0.008,"Oct":0.022,"Nov":0.024,"Dec":0.041},
{"y":2061,"Jan":0.049,"Feb":0.033,"Mar":0.026,"Apr":0.024,"May":0.013,"Jun":0.012,"Jul":0.006,"Aug":0.012,"Sep":0.010,"Oct":0.020,"Nov":0.030,"Dec":0.036},
{"y":2062,"Jan":0.035,"Feb":0.035,"Mar":0.035,"Apr":0.028,"May":0.018,"Jun":0.009,"Jul":0.008,"Aug":0.006,"Sep":0.006,"Oct":0.017,"Nov":0.022,"Dec":0.043},
{"y":2063,"Jan":0.043,"Feb":0.038,"Mar":0.028,"Apr":0.022,"May":0.021,"Jun":0.011,"Jul":0.007,"Aug":0.004,"Sep":0.012,"Oct":0.023,"Nov":0.033,"Dec":0.029},
{"y":2064,"Jan":0.040,"Feb":0.032,"Mar":0.030,"Apr":0.025,"May":0.019,"Jun":0.010,"Jul":0.005,"Aug":0.005,"Sep":0.009,"Oct":0.019,"Nov":0.029,"Dec":0.045},
{"y":2065,"Jan":0.046,"Feb":0.036,"Mar":0.025,"Apr":0.020,"May":0.022,"Jun":0.012,"Jul":0.008,"Aug":0.003,"Sep":0.007,"Oct":0.016,"Nov":0.036,"Dec":0.039},
{"y":2066,"Jan":0.037,"Feb":0.034,"Mar":0.032,"Apr":0.027,"May":0.017,"Jun":0.008,"Jul":0.006,"Aug":0.006,"Sep":0.011,"Oct":0.021,"Nov":0.031,"Dec":0.035},
{"y":2067,"Jan":0.043,"Feb":0.041,"Mar":0.028,"Apr":0.023,"May":0.020,"Jun":0.011,"Jul":0.009,"Aug":0.004,"Sep":0.008,"Oct":0.018,"Nov":0.026,"Dec":0.048},
{"y":2068,"Jan":0.039,"Feb":0.031,"Mar":0.023,"Apr":0.030,"May":0.015,"Jun":0.013,"Jul":0.007,"Aug":0.005,"Sep":0.010,"Oct":0.014,"Nov":0.042,"Dec":0.042},
{"y":2069,"Jan":0.036,"Feb":0.037,"Mar":0.031,"Apr":0.024,"May":0.019,"Jun":0.010,"Jul":0.006,"Aug":0.003,"Sep":0.006,"Oct":0.020,"Nov":0.034,"Dec":0.026},
{"y":2070,"Jan":0.042,"Feb":0.039,"Mar":0.027,"Apr":0.021,"May":0.021,"Jun":0.009,"Jul":0.008,"Aug":0.004,"Sep":0.012,"Oct":0.017,"Nov":0.045,"Dec":0.044},
{"y":2071,"Jan":0.038,"Feb":0.033,"Mar":0.034,"Apr":0.026,"May":0.018,"Jun":0.011,"Jul":0.005,"Aug":0.006,"Sep":0.009,"Oct":0.015,"Nov":0.030,"Dec":0.049},
{"y":2072,"Jan":0.055,"Feb":0.036,"Mar":0.029,"Apr":0.022,"May":0.016,"Jun":0.008,"Jul":0.007,"Aug":0.003,"Sep":0.007,"Oct":0.019,"Nov":0.023,"Dec":0.040},
{"y":2073,"Jan":0.044,"Feb":0.028,"Mar":0.037,"Apr":0.028,"May":0.014,"Jun":0.010,"Jul":0.006,"Aug":0.004,"Sep":0.005,"Oct":0.016,"Nov":0.037,"Dec":0.045},
{"y":2074,"Jan":0.048,"Feb":0.035,"Mar":0.026,"Apr":0.024,"May":0.018,"Jun":0.012,"Jul":0.008,"Aug":0.003,"Sep":0.007,"Oct":0.013,"Nov":0.018,"Dec":0.044},
{"y":2075,"Jan":0.047,"Feb":0.040,"Mar":0.031,"Apr":0.021,"May":0.020,"Jun":0.009,"Jul":0.005,"Aug":0.005,"Sep":0.004,"Oct":0.018,"Nov":0.032,"Dec":0.041},
{"y":2076,"Jan":0.041,"Feb":0.033,"Mar":0.028,"Apr":0.027,"May":0.023,"Jun":0.011,"Jul":0.007,"Aug":0.004,"Sep":0.006,"Oct":0.015,"Nov":0.028,"Dec":0.037},
{"y":2077,"Jan":0.026,"Feb":0.042,"Mar":0.024,"Apr":0.025,"May":0.019,"Jun":0.008,"Jul":0.006,"Aug":0.003,"Sep":0.003,"Oct":0.017,"Nov":0.035,"Dec":0.046},
{"y":2078,"Jan":0.045,"Feb":0.038,"Mar":0.033,"Apr":0.031,"May":0.021,"Jun":0.010,"Jul":0.004,"Aug":0.004,"Sep":0.005,"Oct":0.011,"Nov":0.015,"Dec":0.041},
{"y":2079,"Jan":0.040,"Feb":0.036,"Mar":0.030,"Apr":0.023,"May":0.017,"Jun":0.009,"Jul":0.007,"Aug":0.002,"Sep":0.002,"Oct":0.016,"Nov":0.030,"Dec":0.049},
{"y":2080,"Jan":0.036,"Feb":0.043,"Mar":0.038,"Apr":0.026,"May":0.015,"Jun":0.008,"Jul":0.005,"Aug":0.003,"Sep":0.004,"Oct":0.014,"Nov":0.025,"Dec":0.038},
{"y":2081,"Jan":0.043,"Feb":0.031,"Mar":0.027,"Apr":0.029,"May":0.013,"Jun":0.011,"Jul":0.006,"Aug":0.004,"Sep":0.006,"Oct":0.018,"Nov":0.033,"Dec":0.045},
{"y":2082,"Jan":0.050,"Feb":0.039,"Mar":0.032,"Apr":0.033,"May":0.019,"Jun":0.009,"Jul":0.004,"Aug":0.003,"Sep":0.003,"Oct":0.012,"Nov":0.052,"Dec":0.054},
{"y":2083,"Jan":0.038,"Feb":0.044,"Mar":0.025,"Apr":0.036,"May":0.016,"Jun":0.007,"Jul":0.006,"Aug":0.002,"Sep":0.005,"Oct":0.017,"Nov":0.040,"Dec":0.053},
{"y":2084,"Jan":0.046,"Feb":0.037,"Mar":0.029,"Apr":0.027,"May":0.018,"Jun":0.010,"Jul":0.005,"Aug":0.004,"Sep":0.002,"Oct":0.015,"Nov":0.031,"Dec":0.048},
{"y":2085,"Jan":0.060,"Feb":0.030,"Mar":0.035,"Apr":0.024,"May":0.022,"Jun":0.008,"Jul":0.007,"Aug":0.003,"Sep":0.004,"Oct":0.009,"Nov":0.027,"Dec":0.039},
{"y":2086,"Jan":0.041,"Feb":0.035,"Mar":0.026,"Apr":0.030,"May":0.016,"Jun":0.012,"Jul":0.004,"Aug":0.002,"Sep":0.006,"Oct":0.016,"Nov":0.034,"Dec":0.045},
{"y":2087,"Jan":0.037,"Feb":0.043,"Mar":0.033,"Apr":0.022,"May":0.019,"Jun":0.007,"Jul":0.006,"Aug":0.003,"Sep":0.003,"Oct":0.013,"Nov":0.038,"Dec":0.052},
{"y":2088,"Jan":0.045,"Feb":0.031,"Mar":0.030,"Apr":0.026,"May":0.015,"Jun":0.009,"Jul":0.005,"Aug":0.004,"Sep":0.005,"Oct":0.029,"Nov":0.029,"Dec":0.058},
{"y":2089,"Jan":0.051,"Feb":0.040,"Mar":0.039,"Apr":0.031,"May":0.017,"Jun":0.006,"Jul":0.003,"Aug":0.002,"Sep":0.007,"Oct":0.017,"Nov":0.024,"Dec":0.042},
{"y":2090,"Jan":0.039,"Feb":0.046,"Mar":0.027,"Apr":0.025,"May":0.020,"Jun":0.010,"Jul":0.006,"Aug":0.003,"Sep":0.004,"Oct":0.014,"Nov":0.033,"Dec":0.037},
{"y":2091,"Jan":0.047,"Feb":0.034,"Mar":0.032,"Apr":0.028,"May":0.032,"Jun":0.008,"Jul":0.004,"Aug":0.002,"Sep":0.008,"Oct":0.030,"Nov":0.041,"Dec":0.047},
{"y":2092,"Jan":0.036,"Feb":0.029,"Mar":0.024,"Apr":0.023,"May":0.016,"Jun":0.014,"Jul":0.005,"Aug":0.004,"Sep":0.005,"Oct":0.019,"Nov":0.028,"Dec":0.058},
{"y":2093,"Jan":0.061,"Feb":0.044,"Mar":0.034,"Apr":0.032,"May":0.014,"Jun":0.009,"Jul":0.007,"Aug":0.003,"Sep":0.010,"Oct":0.010,"Nov":0.036,"Dec":0.044},
{"y":2094,"Jan":0.044,"Feb":0.038,"Mar":0.030,"Apr":0.027,"May":0.018,"Jun":0.007,"Jul":0.004,"Aug":0.002,"Sep":0.006,"Oct":0.023,"Nov":0.043,"Dec":0.043},
{"y":2095,"Jan":0.052,"Feb":0.033,"Mar":0.041,"Apr":0.024,"May":0.015,"Jun":0.010,"Jul":0.005,"Aug":0.003,"Sep":0.004,"Oct":0.030,"Nov":0.032,"Dec":0.040},
{"y":2096,"Jan":0.038,"Feb":0.042,"Mar":0.027,"Apr":0.029,"May":0.021,"Jun":0.008,"Jul":0.003,"Aug":0.005,"Sep":0.007,"Oct":0.016,"Nov":0.039,"Dec":0.038},
{"y":2097,"Jan":0.048,"Feb":0.034,"Mar":0.033,"Apr":0.025,"May":0.013,"Jun":0.015,"Jul":0.006,"Aug":0.002,"Sep":0.005,"Oct":0.031,"Nov":0.030,"Dec":0.045},
{"y":2098,"Jan":0.036,"Feb":0.044,"Mar":0.029,"Apr":0.022,"May":0.019,"Jun":0.009,"Jul":0.004,"Aug":0.003,"Sep":0.008,"Oct":0.013,"Nov":0.042,"Dec":0.060},
{"y":2099,"Jan":0.046,"Feb":0.036,"Mar":0.036,"Apr":0.028,"May":0.016,"Jun":0.007,"Jul":0.005,"Aug":0.008,"Sep":0.004,"Oct":0.018,"Nov":0.046,"Dec":0.041},
{"y":2100,"Jan":0.052,"Feb":0.039,"Mar":0.040,"Apr":0.026,"May":0.018,"Jun":0.008,"Jul":0.004,"Aug":0.003,"Sep":0.005,"Oct":0.015,"Nov":0.028,"Dec":0.039}
]},
"hconcat":[
{"title":{"text":"Frasne","font":"Open Sans","fontSize":46,"fontWeight":"normal","color":"#474c52","anchor":"start","align":"center","frame":"group","dx":300,"offset":31,"baseline":"alphabetic"},
"columns":4,"spacing":0,"bounds":"flush",
"concat":[
{"width":166,"height":153,"layer":[
{"data":{"name":"frasne"},"mark":{"type":"line","color":"#E5C518","strokeWidth":1.5,"opacity":0.6},"encoding":{"x":{"field":"y","type":"quantitative","scale":{"domain":[2009,2106],"nice":false,"zero":false},"axis":{"orient":"top","values":[2020,2040,2060,2080,2100],"labels":false,"title":null}},"y":{"field":"Jan","type":"quantitative","scale":{"domain":[0,0.0885],"nice":false,"zero":false},"axis":{"orient":"left","values":[0,0.01,0.02,0.03,0.04,0.05,0.06,0.07],"format":".2f","labelOverlap":false,"labelExpr":"datum.value > 0.005 && datum.value < 0.065 ? datum.label : ''","title":null}}}},
{"data":{"name":"frasne"},"mark":{"type":"circle","size":56,"color":"#E6C61C","fillOpacity":0.55,"stroke":"#D8B800","strokeOpacity":0.8,"strokeWidth":1},"encoding":{"x":{"field":"y","type":"quantitative","scale":{"domain":[2009,2106],"nice":false,"zero":false},"axis":{"orient":"top","values":[2020,2040,2060,2080,2100],"labels":false,"title":null}},"y":{"field":"Jan","type":"quantitative","scale":{"domain":[0,0.0885],"nice":false,"zero":false},"axis":{"orient":"left","values":[0,0.01,0.02,0.03,0.04,0.05,0.06,0.07],"format":".2f","labelOverlap":false,"labelExpr":"datum.value > 0.005 && datum.value < 0.065 ? datum.label : ''","title":null}}}},
{"data":{"values":[{"m":"Jan"}]},"mark":{"type":"rect","fill":"#FFE5CC","stroke":"black","strokeWidth":1.3},"encoding":{"x":{"datum":2009,"type":"quantitative","scale":{"domain":[2009,2106],"nice":false,"zero":false},"axis":{"orient":"top","values":[2020,2040,2060,2080,2100],"labels":false,"title":null}},"x2":{"datum":2106},"y":{"datum":0.07,"type":"quantitative","scale":{"domain":[0,0.0885],"nice":false,"zero":false},"axis":{"orient":"left","values":[0,0.01,0.02,0.03,0.04,0.05,0.06,0.07],"format":".2f","labelOverlap":false,"labelExpr":"datum.value > 0.005 && datum.value < 0.065 ? datum.label : ''","title":null}},"y2":{"datum":0.0885}}},
{"data":{"values":[{"m":"Jan"}]},"mark":{"type":"text","font":"Liberation Sans","fontSize":25,"color":"black"},"encoding":{"x":{"datum":2057.5,"type":"quantitative","scale":{"domain":[2009,2106],"nice":false,"zero":false},"axis":{"orient":"top","values":[2020,2040,2060,2080,2100],"labels":false,"title":null}},"y":{"datum":0.07925,"type":"quantitative","scale":{"domain":[0,0.0885],"nice":false,"zero":false},"axis":{"orient":"left","values":[0,0.01,0.02,0.03,0.04,0.05,0.06,0.07],"format":".2f","labelOverlap":false,"labelExpr":"datum.value > 0.005 && datum.value < 0.065 ? datum.label : ''","title":null}},"text":{"field":"m"}}}]},
{"width":166,"height":153,"layer":[
{"data":{"name":"frasne"},"mark":{"type":"line","color":"#E5C518","strokeWidth":1.5,"opacity":0.6},"encoding":{"x":{"field":"y","type":"quantitative","scale":{"domain":[2009,2106],"nice":false,"zero":false},"axis":{"orient":"top","values":[2020,2040,2060,2080,2100],"format":"d","labelOverlap":false,"labelExpr":"datum.value % 40 == 20 ? datum.label : ''","title":null}},"y":{"field":"Feb","type":"quantitative","scale":{"domain":[0,0.0885],"nice":false,"zero":false},"axis":null}}},
{"data":{"name":"frasne"},"mark":{"type":"circle","size":56,"color":"#E6C61C","fillOpacity":0.55,"stroke":"#D8B800","strokeOpacity":0.8,"strokeWidth":1},"encoding":{"x":{"field":"y","type":"quantitative","scale":{"domain":[2009,2106],"nice":false,"zero":false},"axis":{"orient":"top","values":[2020,2040,2060,2080,2100],"format":"d","labelOverlap":false,"labelExpr":"datum.value % 40 == 20 ? datum.label : ''","title":null}},"y":{"field":"Feb","type":"quantitative","scale":{"domain":[0,0.0885],"nice":false,"zero":false},"axis":null}}},
{"data":{"values":[{"m":"Feb"}]},"mark":{"type":"rect","fill":"#FFE5CC","stroke":"black","strokeWidth":1.3},"encoding":{"x":{"datum":2009,"type":"quantitative","scale":{"domain":[2009,2106],"nice":false,"zero":false},"axis":{"orient":"top","values":[2020,2040,2060,2080,2100],"format":"d","labelOverlap":false,"labelExpr":"datum.value % 40 == 20 ? datum.label : ''","title":null}},"x2":{"datum":2106},"y":{"datum":0.07,"type":"quantitative","scale":{"domain":[0,0.0885],"nice":false,"zero":false},"axis":null},"y2":{"datum":0.0885}}},
{"data":{"values":[{"m":"Feb"}]},"mark":{"type":"text","font":"Liberation Sans","fontSize":25,"color":"black"},"encoding":{"x":{"datum":2057.5,"type":"quantitative","scale":{"domain":[2009,2106],"nice":false,"zero":false},"axis":{"orient":"top","values":[2020,2040,2060,2080,2100],"format":"d","labelOverlap":false,"labelExpr":"datum.value % 40 == 20 ? datum.label : ''","title":null}},"y":{"datum":0.07925,"type":"quantitative","scale":{"domain":[0,0.0885],"nice":false,"zero":false},"axis":null},"text":{"field":"m"}}}]},
{"width":166,"height":153,"layer":[
{"data":{"name":"frasne"},"mark":{"type":"line","color":"#E5C518","strokeWidth":1.5,"opacity":0.6},"encoding":{"x":{"field":"y","type":"quantitative","scale":{"domain":[2009,2106],"nice":false,"zero":false},"axis":{"orient":"top","values":[2020,2040,2060,2080,2100],"labels":false,"title":null}},"y":{"field":"Mar","type":"quantitative","scale":{"domain":[0,0.0885],"nice":false,"zero":false},"axis":null}}},
{"data":{"name":"frasne"},"mark":{"type":"circle","size":56,"color":"#E6C61C","fillOpacity":0.55,"stroke":"#D8B800","strokeOpacity":0.8,"strokeWidth":1},"encoding":{"x":{"field":"y","type":"quantitative","scale":{"domain":[2009,2106],"nice":false,"zero":false},"axis":{"orient":"top","values":[2020,2040,2060,2080,2100],"labels":false,"title":null}},"y":{"field":"Mar","type":"quantitative","scale":{"domain":[0,0.0885],"nice":false,"zero":false},"axis":null}}},
{"data":{"values":[{"m":"Mar"}]},"mark":{"type":"rect","fill":"#FFE5CC","stroke":"black","strokeWidth":1.3},"encoding":{"x":{"datum":2009,"type":"quantitative","scale":{"domain":[2009,2106],"nice":false,"zero":false},"axis":{"orient":"top","values":[2020,2040,2060,2080,2100],"labels":false,"title":null}},"x2":{"datum":2106},"y":{"datum":0.07,"type":"quantitative","scale":{"domain":[0,0.0885],"nice":false,"zero":false},"axis":null},"y2":{"datum":0.0885}}},
{"data":{"values":[{"m":"Mar"}]},"mark":{"type":"text","font":"Liberation Sans","fontSize":25,"color":"black"},"encoding":{"x":{"datum":2057.5,"type":"quantitative","scale":{"domain":[2009,2106],"nice":false,"zero":false},"axis":{"orient":"top","values":[2020,2040,2060,2080,2100],"labels":false,"title":null}},"y":{"datum":0.07925,"type":"quantitative","scale":{"domain":[0,0.0885],"nice":false,"zero":false},"axis":null},"text":{"field":"m"}}}]},
{"width":166,"height":153,"layer":[
{"data":{"name":"frasne"},"mark":{"type":"line","color":"#E5C518","strokeWidth":1.5,"opacity":0.6},"encoding":{"x":{"field":"y","type":"quantitative","scale":{"domain":[2009,2106],"nice":false,"zero":false},"axis":{"orient":"top","values":[2020,2040,2060,2080,2100],"format":"d","labelOverlap":false,"labelExpr":"datum.value % 40 == 20 ? datum.label : ''","title":null}},"y":{"field":"Apr","type":"quantitative","scale":{"domain":[0,0.0885],"nice":false,"zero":false},"axis":{"orient":"right","values":[0,0.01,0.02,0.03,0.04,0.05,0.06,0.07],"labels":false,"title":null}}}},
{"data":{"name":"frasne"},"mark":{"type":"circle","size":56,"color":"#E6C61C","fillOpacity":0.55,"stroke":"#D8B800","strokeOpacity":0.8,"strokeWidth":1},"encoding":{"x":{"field":"y","type":"quantitative","scale":{"domain":[2009,2106],"nice":false,"zero":false},"axis":{"orient":"top","values":[2020,2040,2060,2080,2100],"format":"d","labelOverlap":false,"labelExpr":"datum.value % 40 == 20 ? datum.label : ''","title":null}},"y":{"field":"Apr","type":"quantitative","scale":{"domain":[0,0.0885],"nice":false,"zero":false},"axis":{"orient":"right","values":[0,0.01,0.02,0.03,0.04,0.05,0.06,0.07],"labels":false,"title":null}}}},
{"data":{"values":[{"m":"Apr"}]},"mark":{"type":"rect","fill":"#FFE5CC","stroke":"black","strokeWidth":1.3},"encoding":{"x":{"datum":2009,"type":"quantitative","scale":{"domain":[2009,2106],"nice":false,"zero":false},"axis":{"orient":"top","values":[2020,2040,2060,2080,2100],"format":"d","labelOverlap":false,"labelExpr":"datum.value % 40 == 20 ? datum.label : ''","title":null}},"x2":{"datum":2106},"y":{"datum":0.07,"type":"quantitative","scale":{"domain":[0,0.0885],"nice":false,"zero":false},"axis":{"orient":"right","values":[0,0.01,0.02,0.03,0.04,0.05,0.06,0.07],"labels":false,"title":null}},"y2":{"datum":0.0885}}},
{"data":{"values":[{"m":"Apr"}]},"mark":{"type":"text","font":"Liberation Sans","fontSize":25,"color":"black"},"encoding":{"x":{"datum":2057.5,"type":"quantitative","scale":{"domain":[2009,2106],"nice":false,"zero":false},"axis":{"orient":"top","values":[2020,2040,2060,2080,2100],"format":"d","labelOverlap":false,"labelExpr":"datum.value % 40 == 20 ? datum.label : ''","title":null}},"y":{"datum":0.07925,"type":"quantitative","scale":{"domain":[0,0.0885],"nice":false,"zero":false},"axis":{"orient":"right","values":[0,0.01,0.02,0.03,0.04,0.05,0.06,0.07],"labels":false,"title":null}},"text":{"field":"m"}}}]},
{"width":166,"height":153,"layer":[
{"data":{"name":"frasne"},"mark":{"type":"line","color":"#E5C518","strokeWidth":1.5,"opacity":0.6},"encoding":{"x":{"field":"y","type":"quantitative","scale":{"domain":[2009,2106],"nice":false,"zero":false},"axis":null},"y":{"field":"May","type":"quantitative","scale":{"domain":[0,0.0885],"nice":false,"zero":false},"axis":{"orient":"left","values":[0,0.01,0.02,0.03,0.04,0.05,0.06,0.07],"labels":false,"title":"Mean Monthly Qs (m³s⁻¹km⁻²)","titleFont":"DejaVu Sans","titleFontSize":21,"titleFontWeight":"normal","titleColor":"black","titlePadding":75,"titleY":61}}}},
{"data":{"name":"frasne"},"mark":{"type":"circle","size":56,"color":"#E6C61C","fillOpacity":0.55,"stroke":"#D8B800","strokeOpacity":0.8,"strokeWidth":1},"encoding":{"x":{"field":"y","type":"quantitative","scale":{"domain":[2009,2106],"nice":false,"zero":false},"axis":null},"y":{"field":"May","type":"quantitative","scale":{"domain":[0,0.0885],"nice":false,"zero":false},"axis":{"orient":"left","values":[0,0.01,0.02,0.03,0.04,0.05,0.06,0.07],"labels":false,"title":"Mean Monthly Qs (m³s⁻¹km⁻²)","titleFont":"DejaVu Sans","titleFontSize":21,"titleFontWeight":"normal","titleColor":"black","titlePadding":75,"titleY":61}}}},
{"data":{"values":[{"m":"May"}]},"mark":{"type":"rect","fill":"#FFE5CC","stroke":"black","strokeWidth":1.3},"encoding":{"x":{"datum":2009,"type":"quantitative","scale":{"domain":[2009,2106],"nice":false,"zero":false},"axis":null},"x2":{"datum":2106},"y":{"datum":0.07,"type":"quantitative","scale":{"domain":[0,0.0885],"nice":false,"zero":false},"axis":{"orient":"left","values":[0,0.01,0.02,0.03,0.04,0.05,0.06,0.07],"labels":false,"title":"Mean Monthly Qs (m³s⁻¹km⁻²)","titleFont":"DejaVu Sans","titleFontSize":21,"titleFontWeight":"normal","titleColor":"black","titlePadding":75,"titleY":61}},"y2":{"datum":0.0885}}},
{"data":{"values":[{"m":"May"}]},"mark":{"type":"text","font":"Liberation Sans","fontSize":25,"color":"black"},"encoding":{"x":{"datum":2057.5,"type":"quantitative","scale":{"domain":[2009,2106],"nice":false,"zero":false},"axis":null},"y":{"datum":0.07925,"type":"quantitative","scale":{"domain":[0,0.0885],"nice":false,"zero":false},"axis":{"orient":"left","values":[0,0.01,0.02,0.03,0.04,0.05,0.06,0.07],"labels":false,"title":"Mean Monthly Qs (m³s⁻¹km⁻²)","titleFont":"DejaVu Sans","titleFontSize":21,"titleFontWeight":"normal","titleColor":"black","titlePadding":75,"titleY":61}},"text":{"field":"m"}}}]},
{"width":166,"height":153,"layer":[
{"data":{"name":"frasne"},"mark":{"type":"line","color":"#E5C518","strokeWidth":1.5,"opacity":0.6},"encoding":{"x":{"field":"y","type":"quantitative","scale":{"domain":[2009,2106],"nice":false,"zero":false},"axis":null},"y":{"field":"Jun","type":"quantitative","scale":{"domain":[0,0.0885],"nice":false,"zero":false},"axis":null}}},
{"data":{"name":"frasne"},"mark":{"type":"circle","size":56,"color":"#E6C61C","fillOpacity":0.55,"stroke":"#D8B800","strokeOpacity":0.8,"strokeWidth":1},"encoding":{"x":{"field":"y","type":"quantitative","scale":{"domain":[2009,2106],"nice":false,"zero":false},"axis":null},"y":{"field":"Jun","type":"quantitative","scale":{"domain":[0,0.0885],"nice":false,"zero":false},"axis":null}}},
{"data":{"values":[{"m":"Jun"}]},"mark":{"type":"rect","fill":"#FFE5CC","stroke":"black","strokeWidth":1.3},"encoding":{"x":{"datum":2009,"type":"quantitative","scale":{"domain":[2009,2106],"nice":false,"zero":false},"axis":null},"x2":{"datum":2106},"y":{"datum":0.07,"type":"quantitative","scale":{"domain":[0,0.0885],"nice":false,"zero":false},"axis":null},"y2":{"datum":0.0885}}},
{"data":{"values":[{"m":"Jun"}]},"mark":{"type":"text","font":"Liberation Sans","fontSize":25,"color":"black"},"encoding":{"x":{"datum":2057.5,"type":"quantitative","scale":{"domain":[2009,2106],"nice":false,"zero":false},"axis":null},"y":{"datum":0.07925,"type":"quantitative","scale":{"domain":[0,0.0885],"nice":false,"zero":false},"axis":null},"text":{"field":"m"}}}]},
{"width":166,"height":153,"layer":[
{"data":{"name":"frasne"},"mark":{"type":"line","color":"#E5C518","strokeWidth":1.5,"opacity":0.6},"encoding":{"x":{"field":"y","type":"quantitative","scale":{"domain":[2009,2106],"nice":false,"zero":false},"axis":null},"y":{"field":"Jul","type":"quantitative","scale":{"domain":[0,0.0885],"nice":false,"zero":false},"axis":null}}},
{"data":{"name":"frasne"},"mark":{"type":"circle","size":56,"color":"#E6C61C","fillOpacity":0.55,"stroke":"#D8B800","strokeOpacity":0.8,"strokeWidth":1},"encoding":{"x":{"field":"y","type":"quantitative","scale":{"domain":[2009,2106],"nice":false,"zero":false},"axis":null},"y":{"field":"Jul","type":"quantitative","scale":{"domain":[0,0.0885],"nice":false,"zero":false},"axis":null}}},
{"data":{"values":[{"m":"Jul"}]},"mark":{"type":"rect","fill":"#FFE5CC","stroke":"black","strokeWidth":1.3},"encoding":{"x":{"datum":2009,"type":"quantitative","scale":{"domain":[2009,2106],"nice":false,"zero":false},"axis":null},"x2":{"datum":2106},"y":{"datum":0.07,"type":"quantitative","scale":{"domain":[0,0.0885],"nice":false,"zero":false},"axis":null},"y2":{"datum":0.0885}}},
{"data":{"values":[{"m":"Jul"}]},"mark":{"type":"text","font":"Liberation Sans","fontSize":25,"color":"black"},"encoding":{"x":{"datum":2057.5,"type":"quantitative","scale":{"domain":[2009,2106],"nice":false,"zero":false},"axis":null},"y":{"datum":0.07925,"type":"quantitative","scale":{"domain":[0,0.0885],"nice":false,"zero":false},"axis":null},"text":{"field":"m"}}}]},
{"width":166,"height":153,"layer":[
{"data":{"name":"frasne"},"mark":{"type":"line","color":"#E5C518","strokeWidth":1.5,"opacity":0.6},"encoding":{"x":{"field":"y","type":"quantitative","scale":{"domain":[2009,2106],"nice":false,"zero":false},"axis":null},"y":{"field":"Aug","type":"quantitative","scale":{"domain":[0,0.0885],"nice":false,"zero":false},"axis":{"orient":"right","values":[0,0.01,0.02,0.03,0.04,0.05,0.06,0.07],"format":".2f","labelOverlap":false,"labelExpr":"datum.value > 0.005 && datum.value < 0.065 ? datum.label : ''","title":null}}}},
{"data":{"name":"frasne"},"mark":{"type":"circle","size":56,"color":"#E6C61C","fillOpacity":0.55,"stroke":"#D8B800","strokeOpacity":0.8,"strokeWidth":1},"encoding":{"x":{"field":"y","type":"quantitative","scale":{"domain":[2009,2106],"nice":false,"zero":false},"axis":null},"y":{"field":"Aug","type":"quantitative","scale":{"domain":[0,0.0885],"nice":false,"zero":false},"axis":{"orient":"right","values":[0,0.01,0.02,0.03,0.04,0.05,0.06,0.07],"format":".2f","labelOverlap":false,"labelExpr":"datum.value > 0.005 && datum.value < 0.065 ? datum.label : ''","title":null}}}},
{"data":{"values":[{"m":"Aug"}]},"mark":{"type":"rect","fill":"#FFE5CC","stroke":"black","strokeWidth":1.3},"encoding":{"x":{"datum":2009,"type":"quantitative","scale":{"domain":[2009,2106],"nice":false,"zero":false},"axis":null},"x2":{"datum":2106},"y":{"datum":0.07,"type":"quantitative","scale":{"domain":[0,0.0885],"nice":false,"zero":false},"axis":{"orient":"right","values":[0,0.01,0.02,0.03,0.04,0.05,0.06,0.07],"format":".2f","labelOverlap":false,"labelExpr":"datum.value > 0.005 && datum.value < 0.065 ? datum.label : ''","title":null}},"y2":{"datum":0.0885}}},
{"data":{"values":[{"m":"Aug"}]},"mark":{"type":"text","font":"Liberation Sans","fontSize":25,"color":"black"},"encoding":{"x":{"datum":2057.5,"type":"quantitative","scale":{"domain":[2009,2106],"nice":false,"zero":false},"axis":null},"y":{"datum":0.07925,"type":"quantitative","scale":{"domain":[0,0.0885],"nice":false,"zero":false},"axis":{"orient":"right","values":[0,0.01,0.02,0.03,0.04,0.05,0.06,0.07],"format":".2f","labelOverlap":false,"labelExpr":"datum.value > 0.005 && datum.value < 0.065 ? datum.label : ''","title":null}},"text":{"field":"m"}}}]},
{"width":166,"height":153,"layer":[
{"data":{"name":"frasne"},"mark":{"type":"line","color":"#E5C518","strokeWidth":1.5,"opacity":0.6},"encoding":{"x":{"field":"y","type":"quantitative","scale":{"domain":[2009,2106],"nice":false,"zero":false},"axis":{"orient":"bottom","values":[2020,2040,2060,2080,2100],"format":"d","labelOverlap":false,"labelExpr":"datum.value % 40 == 20 ? datum.label : ''","title":null}},"y":{"field":"Sep","type":"quantitative","scale":{"domain":[0,0.0885],"nice":false,"zero":false},"axis":{"orient":"left","values":[0,0.01,0.02,0.03,0.04,0.05,0.06,0.07],"format":".2f","labelOverlap":false,"labelExpr":"datum.value > 0.005 && datum.value < 0.065 ? datum.label : ''","title":null}}}},
{"data":{"name":"frasne"},"mark":{"type":"circle","size":56,"color":"#E6C61C","fillOpacity":0.55,"stroke":"#D8B800","strokeOpacity":0.8,"strokeWidth":1},"encoding":{"x":{"field":"y","type":"quantitative","scale":{"domain":[2009,2106],"nice":false,"zero":false},"axis":{"orient":"bottom","values":[2020,2040,2060,2080,2100],"format":"d","labelOverlap":false,"labelExpr":"datum.value % 40 == 20 ? datum.label : ''","title":null}},"y":{"field":"Sep","type":"quantitative","scale":{"domain":[0,0.0885],"nice":false,"zero":false},"axis":{"orient":"left","values":[0,0.01,0.02,0.03,0.04,0.05,0.06,0.07],"format":".2f","labelOverlap":false,"labelExpr":"datum.value > 0.005 && datum.value < 0.065 ? datum.label : ''","title":null}}}},
{"data":{"values":[{"m":"Sep"}]},"mark":{"type":"rect","fill":"#FFE5CC","stroke":"black","strokeWidth":1.3},"encoding":{"x":{"datum":2009,"type":"quantitative","scale":{"domain":[2009,2106],"nice":false,"zero":false},"axis":{"orient":"bottom","values":[2020,2040,2060,2080,2100],"format":"d","labelOverlap":false,"labelExpr":"datum.value % 40 == 20 ? datum.label : ''","title":null}},"x2":{"datum":2106},"y":{"datum":0.07,"type":"quantitative","scale":{"domain":[0,0.0885],"nice":false,"zero":false},"axis":{"orient":"left","values":[0,0.01,0.02,0.03,0.04,0.05,0.06,0.07],"format":".2f","labelOverlap":false,"labelExpr":"datum.value > 0.005 && datum.value < 0.065 ? datum.label : ''","title":null}},"y2":{"datum":0.0885}}},
{"data":{"values":[{"m":"Sep"}]},"mark":{"type":"text","font":"Liberation Sans","fontSize":25,"color":"black"},"encoding":{"x":{"datum":2057.5,"type":"quantitative","scale":{"domain":[2009,2106],"nice":false,"zero":false},"axis":{"orient":"bottom","values":[2020,2040,2060,2080,2100],"format":"d","labelOverlap":false,"labelExpr":"datum.value % 40 == 20 ? datum.label : ''","title":null}},"y":{"datum":0.07925,"type":"quantitative","scale":{"domain":[0,0.0885],"nice":false,"zero":false},"axis":{"orient":"left","values":[0,0.01,0.02,0.03,0.04,0.05,0.06,0.07],"format":".2f","labelOverlap":false,"labelExpr":"datum.value > 0.005 && datum.value < 0.065 ? datum.label : ''","title":null}},"text":{"field":"m"}}}]},
{"width":166,"height":153,"layer":[
{"data":{"name":"frasne"},"mark":{"type":"line","color":"#E5C518","strokeWidth":1.5,"opacity":0.6},"encoding":{"x":{"field":"y","type":"quantitative","scale":{"domain":[2009,2106],"nice":false,"zero":false},"axis":{"orient":"bottom","values":[2020,2040,2060,2080,2100],"labels":false,"title":"Year","titleFont":"Liberation Sans","titleFontSize":25,"titleFontWeight":"normal","titleColor":"black","titlePadding":54,"titleX":166}},"y":{"field":"Oct","type":"quantitative","scale":{"domain":[0,0.0885],"nice":false,"zero":false},"axis":null}}},
{"data":{"name":"frasne"},"mark":{"type":"circle","size":56,"color":"#E6C61C","fillOpacity":0.55,"stroke":"#D8B800","strokeOpacity":0.8,"strokeWidth":1},"encoding":{"x":{"field":"y","type":"quantitative","scale":{"domain":[2009,2106],"nice":false,"zero":false},"axis":{"orient":"bottom","values":[2020,2040,2060,2080,2100],"labels":false,"title":"Year","titleFont":"Liberation Sans","titleFontSize":25,"titleFontWeight":"normal","titleColor":"black","titlePadding":54,"titleX":166}},"y":{"field":"Oct","type":"quantitative","scale":{"domain":[0,0.0885],"nice":false,"zero":false},"axis":null}}},
{"data":{"values":[{"m":"Oct"}]},"mark":{"type":"rect","fill":"#FFE5CC","stroke":"black","strokeWidth":1.3},"encoding":{"x":{"datum":2009,"type":"quantitative","scale":{"domain":[2009,2106],"nice":false,"zero":false},"axis":{"orient":"bottom","values":[2020,2040,2060,2080,2100],"labels":false,"title":"Year","titleFont":"Liberation Sans","titleFontSize":25,"titleFontWeight":"normal","titleColor":"black","titlePadding":54,"titleX":166}},"x2":{"datum":2106},"y":{"datum":0.07,"type":"quantitative","scale":{"domain":[0,0.0885],"nice":false,"zero":false},"axis":null},"y2":{"datum":0.0885}}},
{"data":{"values":[{"m":"Oct"}]},"mark":{"type":"text","font":"Liberation Sans","fontSize":25,"color":"black"},"encoding":{"x":{"datum":2057.5,"type":"quantitative","scale":{"domain":[2009,2106],"nice":false,"zero":false},"axis":{"orient":"bottom","values":[2020,2040,2060,2080,2100],"labels":false,"title":"Year","titleFont":"Liberation Sans","titleFontSize":25,"titleFontWeight":"normal","titleColor":"black","titlePadding":54,"titleX":166}},"y":{"datum":0.07925,"type":"quantitative","scale":{"domain":[0,0.0885],"nice":false,"zero":false},"axis":null},"text":{"field":"m"}}}]},
{"width":166,"height":153,"layer":[
{"data":{"name":"frasne"},"mark":{"type":"line","color":"#E5C518","strokeWidth":1.5,"opacity":0.6},"encoding":{"x":{"field":"y","type":"quantitative","scale":{"domain":[2009,2106],"nice":false,"zero":false},"axis":{"orient":"bottom","values":[2020,2040,2060,2080,2100],"format":"d","labelOverlap":false,"labelExpr":"datum.value % 40 == 20 ? datum.label : ''","title":null}},"y":{"field":"Nov","type":"quantitative","scale":{"domain":[0,0.0885],"nice":false,"zero":false},"axis":null}}},
{"data":{"name":"frasne"},"mark":{"type":"circle","size":56,"color":"#E6C61C","fillOpacity":0.55,"stroke":"#D8B800","strokeOpacity":0.8,"strokeWidth":1},"encoding":{"x":{"field":"y","type":"quantitative","scale":{"domain":[2009,2106],"nice":false,"zero":false},"axis":{"orient":"bottom","values":[2020,2040,2060,2080,2100],"format":"d","labelOverlap":false,"labelExpr":"datum.value % 40 == 20 ? datum.label : ''","title":null}},"y":{"field":"Nov","type":"quantitative","scale":{"domain":[0,0.0885],"nice":false,"zero":false},"axis":null}}},
{"data":{"values":[{"m":"Nov"}]},"mark":{"type":"rect","fill":"#FFE5CC","stroke":"black","strokeWidth":1.3},"encoding":{"x":{"datum":2009,"type":"quantitative","scale":{"domain":[2009,2106],"nice":false,"zero":false},"axis":{"orient":"bottom","values":[2020,2040,2060,2080,2100],"format":"d","labelOverlap":false,"labelExpr":"datum.value % 40 == 20 ? datum.label : ''","title":null}},"x2":{"datum":2106},"y":{"datum":0.07,"type":"quantitative","scale":{"domain":[0,0.0885],"nice":false,"zero":false},"axis":null},"y2":{"datum":0.0885}}},
{"data":{"values":[{"m":"Nov"}]},"mark":{"type":"text","font":"Liberation Sans","fontSize":25,"color":"black"},"encoding":{"x":{"datum":2057.5,"type":"quantitative","scale":{"domain":[2009,2106],"nice":false,"zero":false},"axis":{"orient":"bottom","values":[2020,2040,2060,2080,2100],"format":"d","labelOverlap":false,"labelExpr":"datum.value % 40 == 20 ? datum.label : ''","title":null}},"y":{"datum":0.07925,"type":"quantitative","scale":{"domain":[0,0.0885],"nice":false,"zero":false},"axis":null},"text":{"field":"m"}}}]},
{"width":166,"height":153,"layer":[
{"data":{"name":"frasne"},"mark":{"type":"line","color":"#E5C518","strokeWidth":1.5,"opacity":0.6},"encoding":{"x":{"field":"y","type":"quantitative","scale":{"domain":[2009,2106],"nice":false,"zero":false},"axis":{"orient":"bottom","values":[2020,2040,2060,2080,2100],"labels":false,"title":null}},"y":{"field":"Dec","type":"quantitative","scale":{"domain":[0,0.0885],"nice":false,"zero":false},"axis":{"orient":"right","values":[0,0.01,0.02,0.03,0.04,0.05,0.06,0.07],"labels":false,"title":null}}}},
{"data":{"name":"frasne"},"mark":{"type":"circle","size":56,"color":"#E6C61C","fillOpacity":0.55,"stroke":"#D8B800","strokeOpacity":0.8,"strokeWidth":1},"encoding":{"x":{"field":"y","type":"quantitative","scale":{"domain":[2009,2106],"nice":false,"zero":false},"axis":{"orient":"bottom","values":[2020,2040,2060,2080,2100],"labels":false,"title":null}},"y":{"field":"Dec","type":"quantitative","scale":{"domain":[0,0.0885],"nice":false,"zero":false},"axis":{"orient":"right","values":[0,0.01,0.02,0.03,0.04,0.05,0.06,0.07],"labels":false,"title":null}}}},
{"data":{"values":[{"m":"Dec"}]},"mark":{"type":"rect","fill":"#FFE5CC","stroke":"black","strokeWidth":1.3},"encoding":{"x":{"datum":2009,"type":"quantitative","scale":{"domain":[2009,2106],"nice":false,"zero":false},"axis":{"orient":"bottom","values":[2020,2040,2060,2080,2100],"labels":false,"title":null}},"x2":{"datum":2106},"y":{"datum":0.07,"type":"quantitative","scale":{"domain":[0,0.0885],"nice":false,"zero":false},"axis":{"orient":"right","values":[0,0.01,0.02,0.03,0.04,0.05,0.06,0.07],"labels":false,"title":null}},"y2":{"datum":0.0885}}},
{"data":{"values":[{"m":"Dec"}]},"mark":{"type":"text","font":"Liberation Sans","fontSize":25,"color":"black"},"encoding":{"x":{"datum":2057.5,"type":"quantitative","scale":{"domain":[2009,2106],"nice":false,"zero":false},"axis":{"orient":"bottom","values":[2020,2040,2060,2080,2100],"labels":false,"title":null}},"y":{"datum":0.07925,"type":"quantitative","scale":{"domain":[0,0.0885],"nice":false,"zero":false},"axis":{"orient":"right","values":[0,0.01,0.02,0.03,0.04,0.05,0.06,0.07],"labels":false,"title":null}},"text":{"field":"m"}}}]}
]},
{"title":{"text":"Loue","font":"Open Sans","fontSize":46,"fontWeight":"normal","color":"#474c52","anchor":"start","align":"center","frame":"group","dx":345,"offset":31,"baseline":"alphabetic"},
"columns":4,"spacing":0,"bounds":"flush",
"concat":[
{"width":163,"height":148,"layer":[
{"data":{"name":"loue"},"mark":{"type":"line","color":"#E5C518","strokeWidth":1.5,"opacity":0.6},"encoding":{"x":{"field":"y","type":"quantitative","scale":{"domain":[2009,2106],"nice":false,"zero":false},"axis":{"orient":"top","values":[2020,2040,2060,2080,2100],"labels":false,"title":null}},"y":{"field":"Jan","type":"quantitative","scale":{"domain":[0,0.0885],"nice":false,"zero":false},"axis":{"orient":"left","values":[0,0.01,0.02,0.03,0.04,0.05,0.06,0.07],"format":".2f","labelOverlap":false,"labelExpr":"datum.value > 0.005 && datum.value < 0.065 ? datum.label : ''","title":null}}}},
{"data":{"name":"loue"},"mark":{"type":"circle","size":56,"color":"#E6C61C","fillOpacity":0.55,"stroke":"#D8B800","strokeOpacity":0.8,"strokeWidth":1},"encoding":{"x":{"field":"y","type":"quantitative","scale":{"domain":[2009,2106],"nice":false,"zero":false},"axis":{"orient":"top","values":[2020,2040,2060,2080,2100],"labels":false,"title":null}},"y":{"field":"Jan","type":"quantitative","scale":{"domain":[0,0.0885],"nice":false,"zero":false},"axis":{"orient":"left","values":[0,0.01,0.02,0.03,0.04,0.05,0.06,0.07],"format":".2f","labelOverlap":false,"labelExpr":"datum.value > 0.005 && datum.value < 0.065 ? datum.label : ''","title":null}}}},
{"data":{"values":[{"m":"Jan"}]},"mark":{"type":"rect","fill":"#FFE5CC","stroke":"black","strokeWidth":1.3},"encoding":{"x":{"datum":2009,"type":"quantitative","scale":{"domain":[2009,2106],"nice":false,"zero":false},"axis":{"orient":"top","values":[2020,2040,2060,2080,2100],"labels":false,"title":null}},"x2":{"datum":2106},"y":{"datum":0.07,"type":"quantitative","scale":{"domain":[0,0.0885],"nice":false,"zero":false},"axis":{"orient":"left","values":[0,0.01,0.02,0.03,0.04,0.05,0.06,0.07],"format":".2f","labelOverlap":false,"labelExpr":"datum.value > 0.005 && datum.value < 0.065 ? datum.label : ''","title":null}},"y2":{"datum":0.0885}}},
{"data":{"values":[{"m":"Jan"}]},"mark":{"type":"text","font":"Liberation Sans","fontSize":25,"color":"black"},"encoding":{"x":{"datum":2057.5,"type":"quantitative","scale":{"domain":[2009,2106],"nice":false,"zero":false},"axis":{"orient":"top","values":[2020,2040,2060,2080,2100],"labels":false,"title":null}},"y":{"datum":0.07925,"type":"quantitative","scale":{"domain":[0,0.0885],"nice":false,"zero":false},"axis":{"orient":"left","values":[0,0.01,0.02,0.03,0.04,0.05,0.06,0.07],"format":".2f","labelOverlap":false,"labelExpr":"datum.value > 0.005 && datum.value < 0.065 ? datum.label : ''","title":null}},"text":{"field":"m"}}}]},
{"width":163,"height":148,"layer":[
{"data":{"name":"loue"},"mark":{"type":"line","color":"#E5C518","strokeWidth":1.5,"opacity":0.6},"encoding":{"x":{"field":"y","type":"quantitative","scale":{"domain":[2009,2106],"nice":false,"zero":false},"axis":{"orient":"top","values":[2020,2040,2060,2080,2100],"format":"d","labelOverlap":false,"labelExpr":"datum.value % 40 == 20 ? datum.label : ''","title":null}},"y":{"field":"Feb","type":"quantitative","scale":{"domain":[0,0.0885],"nice":false,"zero":false},"axis":null}}},
{"data":{"name":"loue"},"mark":{"type":"circle","size":56,"color":"#E6C61C","fillOpacity":0.55,"stroke":"#D8B800","strokeOpacity":0.8,"strokeWidth":1},"encoding":{"x":{"field":"y","type":"quantitative","scale":{"domain":[2009,2106],"nice":false,"zero":false},"axis":{"orient":"top","values":[2020,2040,2060,2080,2100],"format":"d","labelOverlap":false,"labelExpr":"datum.value % 40 == 20 ? datum.label : ''","title":null}},"y":{"field":"Feb","type":"quantitative","scale":{"domain":[0,0.0885],"nice":false,"zero":false},"axis":null}}},
{"data":{"values":[{"m":"Feb"}]},"mark":{"type":"rect","fill":"#FFE5CC","stroke":"black","strokeWidth":1.3},"encoding":{"x":{"datum":2009,"type":"quantitative","scale":{"domain":[2009,2106],"nice":false,"zero":false},"axis":{"orient":"top","values":[2020,2040,2060,2080,2100],"format":"d","labelOverlap":false,"labelExpr":"datum.value % 40 == 20 ? datum.label : ''","title":null}},"x2":{"datum":2106},"y":{"datum":0.07,"type":"quantitative","scale":{"domain":[0,0.0885],"nice":false,"zero":false},"axis":null},"y2":{"datum":0.0885}}},
{"data":{"values":[{"m":"Feb"}]},"mark":{"type":"text","font":"Liberation Sans","fontSize":25,"color":"black"},"encoding":{"x":{"datum":2057.5,"type":"quantitative","scale":{"domain":[2009,2106],"nice":false,"zero":false},"axis":{"orient":"top","values":[2020,2040,2060,2080,2100],"format":"d","labelOverlap":false,"labelExpr":"datum.value % 40 == 20 ? datum.label : ''","title":null}},"y":{"datum":0.07925,"type":"quantitative","scale":{"domain":[0,0.0885],"nice":false,"zero":false},"axis":null},"text":{"field":"m"}}}]},
{"width":163,"height":148,"layer":[
{"data":{"name":"loue"},"mark":{"type":"line","color":"#E5C518","strokeWidth":1.5,"opacity":0.6},"encoding":{"x":{"field":"y","type":"quantitative","scale":{"domain":[2009,2106],"nice":false,"zero":false},"axis":{"orient":"top","values":[2020,2040,2060,2080,2100],"labels":false,"title":null}},"y":{"field":"Mar","type":"quantitative","scale":{"domain":[0,0.0885],"nice":false,"zero":false},"axis":null}}},
{"data":{"name":"loue"},"mark":{"type":"circle","size":56,"color":"#E6C61C","fillOpacity":0.55,"stroke":"#D8B800","strokeOpacity":0.8,"strokeWidth":1},"encoding":{"x":{"field":"y","type":"quantitative","scale":{"domain":[2009,2106],"nice":false,"zero":false},"axis":{"orient":"top","values":[2020,2040,2060,2080,2100],"labels":false,"title":null}},"y":{"field":"Mar","type":"quantitative","scale":{"domain":[0,0.0885],"nice":false,"zero":false},"axis":null}}},
{"data":{"values":[{"m":"Mar"}]},"mark":{"type":"rect","fill":"#FFE5CC","stroke":"black","strokeWidth":1.3},"encoding":{"x":{"datum":2009,"type":"quantitative","scale":{"domain":[2009,2106],"nice":false,"zero":false},"axis":{"orient":"top","values":[2020,2040,2060,2080,2100],"labels":false,"title":null}},"x2":{"datum":2106},"y":{"datum":0.07,"type":"quantitative","scale":{"domain":[0,0.0885],"nice":false,"zero":false},"axis":null},"y2":{"datum":0.0885}}},
{"data":{"values":[{"m":"Mar"}]},"mark":{"type":"text","font":"Liberation Sans","fontSize":25,"color":"black"},"encoding":{"x":{"datum":2057.5,"type":"quantitative","scale":{"domain":[2009,2106],"nice":false,"zero":false},"axis":{"orient":"top","values":[2020,2040,2060,2080,2100],"labels":false,"title":null}},"y":{"datum":0.07925,"type":"quantitative","scale":{"domain":[0,0.0885],"nice":false,"zero":false},"axis":null},"text":{"field":"m"}}}]},
{"width":163,"height":148,"layer":[
{"data":{"name":"loue"},"mark":{"type":"line","color":"#E5C518","strokeWidth":1.5,"opacity":0.6},"encoding":{"x":{"field":"y","type":"quantitative","scale":{"domain":[2009,2106],"nice":false,"zero":false},"axis":{"orient":"top","values":[2020,2040,2060,2080,2100],"format":"d","labelOverlap":false,"labelExpr":"datum.value % 40 == 20 ? datum.label : ''","title":null}},"y":{"field":"Apr","type":"quantitative","scale":{"domain":[0,0.0885],"nice":false,"zero":false},"axis":{"orient":"right","values":[0,0.01,0.02,0.03,0.04,0.05,0.06,0.07],"labels":false,"title":null}}}},
{"data":{"name":"loue"},"mark":{"type":"circle","size":56,"color":"#E6C61C","fillOpacity":0.55,"stroke":"#D8B800","strokeOpacity":0.8,"strokeWidth":1},"encoding":{"x":{"field":"y","type":"quantitative","scale":{"domain":[2009,2106],"nice":false,"zero":false},"axis":{"orient":"top","values":[2020,2040,2060,2080,2100],"format":"d","labelOverlap":false,"labelExpr":"datum.value % 40 == 20 ? datum.label : ''","title":null}},"y":{"field":"Apr","type":"quantitative","scale":{"domain":[0,0.0885],"nice":false,"zero":false},"axis":{"orient":"right","values":[0,0.01,0.02,0.03,0.04,0.05,0.06,0.07],"labels":false,"title":null}}}},
{"data":{"values":[{"m":"Apr"}]},"mark":{"type":"rect","fill":"#FFE5CC","stroke":"black","strokeWidth":1.3},"encoding":{"x":{"datum":2009,"type":"quantitative","scale":{"domain":[2009,2106],"nice":false,"zero":false},"axis":{"orient":"top","values":[2020,2040,2060,2080,2100],"format":"d","labelOverlap":false,"labelExpr":"datum.value % 40 == 20 ? datum.label : ''","title":null}},"x2":{"datum":2106},"y":{"datum":0.07,"type":"quantitative","scale":{"domain":[0,0.0885],"nice":false,"zero":false},"axis":{"orient":"right","values":[0,0.01,0.02,0.03,0.04,0.05,0.06,0.07],"labels":false,"title":null}},"y2":{"datum":0.0885}}},
{"data":{"values":[{"m":"Apr"}]},"mark":{"type":"text","font":"Liberation Sans","fontSize":25,"color":"black"},"encoding":{"x":{"datum":2057.5,"type":"quantitative","scale":{"domain":[2009,2106],"nice":false,"zero":false},"axis":{"orient":"top","values":[2020,2040,2060,2080,2100],"format":"d","labelOverlap":false,"labelExpr":"datum.value % 40 == 20 ? datum.label : ''","title":null}},"y":{"datum":0.07925,"type":"quantitative","scale":{"domain":[0,0.0885],"nice":false,"zero":false},"axis":{"orient":"right","values":[0,0.01,0.02,0.03,0.04,0.05,0.06,0.07],"labels":false,"title":null}},"text":{"field":"m"}}}]},
{"width":163,"height":148,"layer":[
{"data":{"name":"loue"},"mark":{"type":"line","color":"#E5C518","strokeWidth":1.5,"opacity":0.6},"encoding":{"x":{"field":"y","type":"quantitative","scale":{"domain":[2009,2106],"nice":false,"zero":false},"axis":null},"y":{"field":"May","type":"quantitative","scale":{"domain":[0,0.0885],"nice":false,"zero":false},"axis":{"orient":"left","values":[0,0.01,0.02,0.03,0.04,0.05,0.06,0.07],"labels":false,"title":"Mean Monthly Qs (m³s⁻¹km⁻²)","titleFont":"DejaVu Sans","titleFontSize":21,"titleFontWeight":"normal","titleColor":"black","titlePadding":80,"titleY":58}}}},
{"data":{"name":"loue"},"mark":{"type":"circle","size":56,"color":"#E6C61C","fillOpacity":0.55,"stroke":"#D8B800","strokeOpacity":0.8,"strokeWidth":1},"encoding":{"x":{"field":"y","type":"quantitative","scale":{"domain":[2009,2106],"nice":false,"zero":false},"axis":null},"y":{"field":"May","type":"quantitative","scale":{"domain":[0,0.0885],"nice":false,"zero":false},"axis":{"orient":"left","values":[0,0.01,0.02,0.03,0.04,0.05,0.06,0.07],"labels":false,"title":"Mean Monthly Qs (m³s⁻¹km⁻²)","titleFont":"DejaVu Sans","titleFontSize":21,"titleFontWeight":"normal","titleColor":"black","titlePadding":80,"titleY":58}}}},
{"data":{"values":[{"m":"May"}]},"mark":{"type":"rect","fill":"#FFE5CC","stroke":"black","strokeWidth":1.3},"encoding":{"x":{"datum":2009,"type":"quantitative","scale":{"domain":[2009,2106],"nice":false,"zero":false},"axis":null},"x2":{"datum":2106},"y":{"datum":0.07,"type":"quantitative","scale":{"domain":[0,0.0885],"nice":false,"zero":false},"axis":{"orient":"left","values":[0,0.01,0.02,0.03,0.04,0.05,0.06,0.07],"labels":false,"title":"Mean Monthly Qs (m³s⁻¹km⁻²)","titleFont":"DejaVu Sans","titleFontSize":21,"titleFontWeight":"normal","titleColor":"black","titlePadding":80,"titleY":58}},"y2":{"datum":0.0885}}},
{"data":{"values":[{"m":"May"}]},"mark":{"type":"text","font":"Liberation Sans","fontSize":25,"color":"black"},"encoding":{"x":{"datum":2057.5,"type":"quantitative","scale":{"domain":[2009,2106],"nice":false,"zero":false},"axis":null},"y":{"datum":0.07925,"type":"quantitative","scale":{"domain":[0,0.0885],"nice":false,"zero":false},"axis":{"orient":"left","values":[0,0.01,0.02,0.03,0.04,0.05,0.06,0.07],"labels":false,"title":"Mean Monthly Qs (m³s⁻¹km⁻²)","titleFont":"DejaVu Sans","titleFontSize":21,"titleFontWeight":"normal","titleColor":"black","titlePadding":80,"titleY":58}},"text":{"field":"m"}}}]},
{"width":163,"height":148,"layer":[
{"data":{"name":"loue"},"mark":{"type":"line","color":"#E5C518","strokeWidth":1.5,"opacity":0.6},"encoding":{"x":{"field":"y","type":"quantitative","scale":{"domain":[2009,2106],"nice":false,"zero":false},"axis":null},"y":{"field":"Jun","type":"quantitative","scale":{"domain":[0,0.0885],"nice":false,"zero":false},"axis":null}}},
{"data":{"name":"loue"},"mark":{"type":"circle","size":56,"color":"#E6C61C","fillOpacity":0.55,"stroke":"#D8B800","strokeOpacity":0.8,"strokeWidth":1},"encoding":{"x":{"field":"y","type":"quantitative","scale":{"domain":[2009,2106],"nice":false,"zero":false},"axis":null},"y":{"field":"Jun","type":"quantitative","scale":{"domain":[0,0.0885],"nice":false,"zero":false},"axis":null}}},
{"data":{"values":[{"m":"Jun"}]},"mark":{"type":"rect","fill":"#FFE5CC","stroke":"black","strokeWidth":1.3},"encoding":{"x":{"datum":2009,"type":"quantitative","scale":{"domain":[2009,2106],"nice":false,"zero":false},"axis":null},"x2":{"datum":2106},"y":{"datum":0.07,"type":"quantitative","scale":{"domain":[0,0.0885],"nice":false,"zero":false},"axis":null},"y2":{"datum":0.0885}}},
{"data":{"values":[{"m":"Jun"}]},"mark":{"type":"text","font":"Liberation Sans","fontSize":25,"color":"black"},"encoding":{"x":{"datum":2057.5,"type":"quantitative","scale":{"domain":[2009,2106],"nice":false,"zero":false},"axis":null},"y":{"datum":0.07925,"type":"quantitative","scale":{"domain":[0,0.0885],"nice":false,"zero":false},"axis":null},"text":{"field":"m"}}}]},
{"width":163,"height":148,"layer":[
{"data":{"name":"loue"},"mark":{"type":"line","color":"#E5C518","strokeWidth":1.5,"opacity":0.6},"encoding":{"x":{"field":"y","type":"quantitative","scale":{"domain":[2009,2106],"nice":false,"zero":false},"axis":null},"y":{"field":"Jul","type":"quantitative","scale":{"domain":[0,0.0885],"nice":false,"zero":false},"axis":null}}},
{"data":{"name":"loue"},"mark":{"type":"circle","size":56,"color":"#E6C61C","fillOpacity":0.55,"stroke":"#D8B800","strokeOpacity":0.8,"strokeWidth":1},"encoding":{"x":{"field":"y","type":"quantitative","scale":{"domain":[2009,2106],"nice":false,"zero":false},"axis":null},"y":{"field":"Jul","type":"quantitative","scale":{"domain":[0,0.0885],"nice":false,"zero":false},"axis":null}}},
{"data":{"values":[{"m":"Jul"}]},"mark":{"type":"rect","fill":"#FFE5CC","stroke":"black","strokeWidth":1.3},"encoding":{"x":{"datum":2009,"type":"quantitative","scale":{"domain":[2009,2106],"nice":false,"zero":false},"axis":null},"x2":{"datum":2106},"y":{"datum":0.07,"type":"quantitative","scale":{"domain":[0,0.0885],"nice":false,"zero":false},"axis":null},"y2":{"datum":0.0885}}},
{"data":{"values":[{"m":"Jul"}]},"mark":{"type":"text","font":"Liberation Sans","fontSize":25,"color":"black"},"encoding":{"x":{"datum":2057.5,"type":"quantitative","scale":{"domain":[2009,2106],"nice":false,"zero":false},"axis":null},"y":{"datum":0.07925,"type":"quantitative","scale":{"domain":[0,0.0885],"nice":false,"zero":false},"axis":null},"text":{"field":"m"}}}]},
{"width":163,"height":148,"layer":[
{"data":{"name":"loue"},"mark":{"type":"line","color":"#E5C518","strokeWidth":1.5,"opacity":0.6},"encoding":{"x":{"field":"y","type":"quantitative","scale":{"domain":[2009,2106],"nice":false,"zero":false},"axis":null},"y":{"field":"Aug","type":"quantitative","scale":{"domain":[0,0.0885],"nice":false,"zero":false},"axis":{"orient":"right","values":[0,0.01,0.02,0.03,0.04,0.05,0.06,0.07],"format":".2f","labelOverlap":false,"labelExpr":"datum.value > 0.005 && datum.value < 0.065 ? datum.label : ''","title":null}}}},
{"data":{"name":"loue"},"mark":{"type":"circle","size":56,"color":"#E6C61C","fillOpacity":0.55,"stroke":"#D8B800","strokeOpacity":0.8,"strokeWidth":1},"encoding":{"x":{"field":"y","type":"quantitative","scale":{"domain":[2009,2106],"nice":false,"zero":false},"axis":null},"y":{"field":"Aug","type":"quantitative","scale":{"domain":[0,0.0885],"nice":false,"zero":false},"axis":{"orient":"right","values":[0,0.01,0.02,0.03,0.04,0.05,0.06,0.07],"format":".2f","labelOverlap":false,"labelExpr":"datum.value > 0.005 && datum.value < 0.065 ? datum.label : ''","title":null}}}},
{"data":{"values":[{"m":"Aug"}]},"mark":{"type":"rect","fill":"#FFE5CC","stroke":"black","strokeWidth":1.3},"encoding":{"x":{"datum":2009,"type":"quantitative","scale":{"domain":[2009,2106],"nice":false,"zero":false},"axis":null},"x2":{"datum":2106},"y":{"datum":0.07,"type":"quantitative","scale":{"domain":[0,0.0885],"nice":false,"zero":false},"axis":{"orient":"right","values":[0,0.01,0.02,0.03,0.04,0.05,0.06,0.07],"format":".2f","labelOverlap":false,"labelExpr":"datum.value > 0.005 && datum.value < 0.065 ? datum.label : ''","title":null}},"y2":{"datum":0.0885}}},
{"data":{"values":[{"m":"Aug"}]},"mark":{"type":"text","font":"Liberation Sans","fontSize":25,"color":"black"},"encoding":{"x":{"datum":2057.5,"type":"quantitative","scale":{"domain":[2009,2106],"nice":false,"zero":false},"axis":null},"y":{"datum":0.07925,"type":"quantitative","scale":{"domain":[0,0.0885],"nice":false,"zero":false},"axis":{"orient":"right","values":[0,0.01,0.02,0.03,0.04,0.05,0.06,0.07],"format":".2f","labelOverlap":false,"labelExpr":"datum.value > 0.005 && datum.value < 0.065 ? datum.label : ''","title":null}},"text":{"field":"m"}}}]},
{"width":163,"height":148,"layer":[
{"data":{"name":"loue"},"mark":{"type":"line","color":"#E5C518","strokeWidth":1.5,"opacity":0.6},"encoding":{"x":{"field":"y","type":"quantitative","scale":{"domain":[2009,2106],"nice":false,"zero":false},"axis":{"orient":"bottom","values":[2020,2040,2060,2080,2100],"format":"d","labelOverlap":false,"labelExpr":"datum.value % 40 == 20 ? datum.label : ''","title":null}},"y":{"field":"Sep","type":"quantitative","scale":{"domain":[0,0.0885],"nice":false,"zero":false},"axis":{"orient":"left","values":[0,0.01,0.02,0.03,0.04,0.05,0.06,0.07],"format":".2f","labelOverlap":false,"labelExpr":"datum.value > 0.005 && datum.value < 0.065 ? datum.label : ''","title":null}}}},
{"data":{"name":"loue"},"mark":{"type":"circle","size":56,"color":"#E6C61C","fillOpacity":0.55,"stroke":"#D8B800","strokeOpacity":0.8,"strokeWidth":1},"encoding":{"x":{"field":"y","type":"quantitative","scale":{"domain":[2009,2106],"nice":false,"zero":false},"axis":{"orient":"bottom","values":[2020,2040,2060,2080,2100],"format":"d","labelOverlap":false,"labelExpr":"datum.value % 40 == 20 ? datum.label : ''","title":null}},"y":{"field":"Sep","type":"quantitative","scale":{"domain":[0,0.0885],"nice":false,"zero":false},"axis":{"orient":"left","values":[0,0.01,0.02,0.03,0.04,0.05,0.06,0.07],"format":".2f","labelOverlap":false,"labelExpr":"datum.value > 0.005 && datum.value < 0.065 ? datum.label : ''","title":null}}}},
{"data":{"values":[{"m":"Sep"}]},"mark":{"type":"rect","fill":"#FFE5CC","stroke":"black","strokeWidth":1.3},"encoding":{"x":{"datum":2009,"type":"quantitative","scale":{"domain":[2009,2106],"nice":false,"zero":false},"axis":{"orient":"bottom","values":[2020,2040,2060,2080,2100],"format":"d","labelOverlap":false,"labelExpr":"datum.value % 40 == 20 ? datum.label : ''","title":null}},"x2":{"datum":2106},"y":{"datum":0.07,"type":"quantitative","scale":{"domain":[0,0.0885],"nice":false,"zero":false},"axis":{"orient":"left","values":[0,0.01,0.02,0.03,0.04,0.05,0.06,0.07],"format":".2f","labelOverlap":false,"labelExpr":"datum.value > 0.005 && datum.value < 0.065 ? datum.label : ''","title":null}},"y2":{"datum":0.0885}}},
{"data":{"values":[{"m":"Sep"}]},"mark":{"type":"text","font":"Liberation Sans","fontSize":25,"color":"black"},"encoding":{"x":{"datum":2057.5,"type":"quantitative","scale":{"domain":[2009,2106],"nice":false,"zero":false},"axis":{"orient":"bottom","values":[2020,2040,2060,2080,2100],"format":"d","labelOverlap":false,"labelExpr":"datum.value % 40 == 20 ? datum.label : ''","title":null}},"y":{"datum":0.07925,"type":"quantitative","scale":{"domain":[0,0.0885],"nice":false,"zero":false},"axis":{"orient":"left","values":[0,0.01,0.02,0.03,0.04,0.05,0.06,0.07],"format":".2f","labelOverlap":false,"labelExpr":"datum.value > 0.005 && datum.value < 0.065 ? datum.label : ''","title":null}},"text":{"field":"m"}}}]},
{"width":163,"height":148,"layer":[
{"data":{"name":"loue"},"mark":{"type":"line","color":"#E5C518","strokeWidth":1.5,"opacity":0.6},"encoding":{"x":{"field":"y","type":"quantitative","scale":{"domain":[2009,2106],"nice":false,"zero":false},"axis":{"orient":"bottom","values":[2020,2040,2060,2080,2100],"labels":false,"title":"Year","titleFont":"Liberation Sans","titleFontSize":25,"titleFontWeight":"normal","titleColor":"black","titlePadding":53,"titleX":163}},"y":{"field":"Oct","type":"quantitative","scale":{"domain":[0,0.0885],"nice":false,"zero":false},"axis":null}}},
{"data":{"name":"loue"},"mark":{"type":"circle","size":56,"color":"#E6C61C","fillOpacity":0.55,"stroke":"#D8B800","strokeOpacity":0.8,"strokeWidth":1},"encoding":{"x":{"field":"y","type":"quantitative","scale":{"domain":[2009,2106],"nice":false,"zero":false},"axis":{"orient":"bottom","values":[2020,2040,2060,2080,2100],"labels":false,"title":"Year","titleFont":"Liberation Sans","titleFontSize":25,"titleFontWeight":"normal","titleColor":"black","titlePadding":53,"titleX":163}},"y":{"field":"Oct","type":"quantitative","scale":{"domain":[0,0.0885],"nice":false,"zero":false},"axis":null}}},
{"data":{"values":[{"m":"Oct"}]},"mark":{"type":"rect","fill":"#FFE5CC","stroke":"black","strokeWidth":1.3},"encoding":{"x":{"datum":2009,"type":"quantitative","scale":{"domain":[2009,2106],"nice":false,"zero":false},"axis":{"orient":"bottom","values":[2020,2040,2060,2080,2100],"labels":false,"title":"Year","titleFont":"Liberation Sans","titleFontSize":25,"titleFontWeight":"normal","titleColor":"black","titlePadding":53,"titleX":163}},"x2":{"datum":2106},"y":{"datum":0.07,"type":"quantitative","scale":{"domain":[0,0.0885],"nice":false,"zero":false},"axis":null},"y2":{"datum":0.0885}}},
{"data":{"values":[{"m":"Oct"}]},"mark":{"type":"text","font":"Liberation Sans","fontSize":25,"color":"black"},"encoding":{"x":{"datum":2057.5,"type":"quantitative","scale":{"domain":[2009,2106],"nice":false,"zero":false},"axis":{"orient":"bottom","values":[2020,2040,2060,2080,2100],"labels":false,"title":"Year","titleFont":"Liberation Sans","titleFontSize":25,"titleFontWeight":"normal","titleColor":"black","titlePadding":53,"titleX":163}},"y":{"datum":0.07925,"type":"quantitative","scale":{"domain":[0,0.0885],"nice":false,"zero":false},"axis":null},"text":{"field":"m"}}}]},
{"width":163,"height":148,"layer":[
{"data":{"name":"loue"},"mark":{"type":"line","color":"#E5C518","strokeWidth":1.5,"opacity":0.6},"encoding":{"x":{"field":"y","type":"quantitative","scale":{"domain":[2009,2106],"nice":false,"zero":false},"axis":{"orient":"bottom","values":[2020,2040,2060,2080,2100],"format":"d","labelOverlap":false,"labelExpr":"datum.value % 40 == 20 ? datum.label : ''","title":null}},"y":{"field":"Nov","type":"quantitative","scale":{"domain":[0,0.0885],"nice":false,"zero":false},"axis":null}}},
{"data":{"name":"loue"},"mark":{"type":"circle","size":56,"color":"#E6C61C","fillOpacity":0.55,"stroke":"#D8B800","strokeOpacity":0.8,"strokeWidth":1},"encoding":{"x":{"field":"y","type":"quantitative","scale":{"domain":[2009,2106],"nice":false,"zero":false},"axis":{"orient":"bottom","values":[2020,2040,2060,2080,2100],"format":"d","labelOverlap":false,"labelExpr":"datum.value % 40 == 20 ? datum.label : ''","title":null}},"y":{"field":"Nov","type":"quantitative","scale":{"domain":[0,0.0885],"nice":false,"zero":false},"axis":null}}},
{"data":{"values":[{"m":"Nov"}]},"mark":{"type":"rect","fill":"#FFE5CC","stroke":"black","strokeWidth":1.3},"encoding":{"x":{"datum":2009,"type":"quantitative","scale":{"domain":[2009,2106],"nice":false,"zero":false},"axis":{"orient":"bottom","values":[2020,2040,2060,2080,2100],"format":"d","labelOverlap":false,"labelExpr":"datum.value % 40 == 20 ? datum.label : ''","title":null}},"x2":{"datum":2106},"y":{"datum":0.07,"type":"quantitative","scale":{"domain":[0,0.0885],"nice":false,"zero":false},"axis":null},"y2":{"datum":0.0885}}},
{"data":{"values":[{"m":"Nov"}]},"mark":{"type":"text","font":"Liberation Sans","fontSize":25,"color":"black"},"encoding":{"x":{"datum":2057.5,"type":"quantitative","scale":{"domain":[2009,2106],"nice":false,"zero":false},"axis":{"orient":"bottom","values":[2020,2040,2060,2080,2100],"format":"d","labelOverlap":false,"labelExpr":"datum.value % 40 == 20 ? datum.label : ''","title":null}},"y":{"datum":0.07925,"type":"quantitative","scale":{"domain":[0,0.0885],"nice":false,"zero":false},"axis":null},"text":{"field":"m"}}}]},
{"width":163,"height":148,"layer":[
{"data":{"name":"loue"},"mark":{"type":"line","color":"#E5C518","strokeWidth":1.5,"opacity":0.6},"encoding":{"x":{"field":"y","type":"quantitative","scale":{"domain":[2009,2106],"nice":false,"zero":false},"axis":{"orient":"bottom","values":[2020,2040,2060,2080,2100],"labels":false,"title":null}},"y":{"field":"Dec","type":"quantitative","scale":{"domain":[0,0.0885],"nice":false,"zero":false},"axis":{"orient":"right","values":[0,0.01,0.02,0.03,0.04,0.05,0.06,0.07],"labels":false,"title":null}}}},
{"data":{"name":"loue"},"mark":{"type":"circle","size":56,"color":"#E6C61C","fillOpacity":0.55,"stroke":"#D8B800","strokeOpacity":0.8,"strokeWidth":1},"encoding":{"x":{"field":"y","type":"quantitative","scale":{"domain":[2009,2106],"nice":false,"zero":false},"axis":{"orient":"bottom","values":[2020,2040,2060,2080,2100],"labels":false,"title":null}},"y":{"field":"Dec","type":"quantitative","scale":{"domain":[0,0.0885],"nice":false,"zero":false},"axis":{"orient":"right","values":[0,0.01,0.02,0.03,0.04,0.05,0.06,0.07],"labels":false,"title":null}}}},
{"data":{"values":[{"m":"Dec"}]},"mark":{"type":"rect","fill":"#FFE5CC","stroke":"black","strokeWidth":1.3},"encoding":{"x":{"datum":2009,"type":"quantitative","scale":{"domain":[2009,2106],"nice":false,"zero":false},"axis":{"orient":"bottom","values":[2020,2040,2060,2080,2100],"labels":false,"title":null}},"x2":{"datum":2106},"y":{"datum":0.07,"type":"quantitative","scale":{"domain":[0,0.0885],"nice":false,"zero":false},"axis":{"orient":"right","values":[0,0.01,0.02,0.03,0.04,0.05,0.06,0.07],"labels":false,"title":null}},"y2":{"datum":0.0885}}},
{"data":{"values":[{"m":"Dec"}]},"mark":{"type":"text","font":"Liberation Sans","fontSize":25,"color":"black"},"encoding":{"x":{"datum":2057.5,"type":"quantitative","scale":{"domain":[2009,2106],"nice":false,"zero":false},"axis":{"orient":"bottom","values":[2020,2040,2060,2080,2100],"labels":false,"title":null}},"y":{"datum":0.07925,"type":"quantitative","scale":{"domain":[0,0.0885],"nice":false,"zero":false},"axis":{"orient":"right","values":[0,0.01,0.02,0.03,0.04,0.05,0.06,0.07],"labels":false,"title":null}},"text":{"field":"m"}}}]}
]}
],
"spacing":45
}
